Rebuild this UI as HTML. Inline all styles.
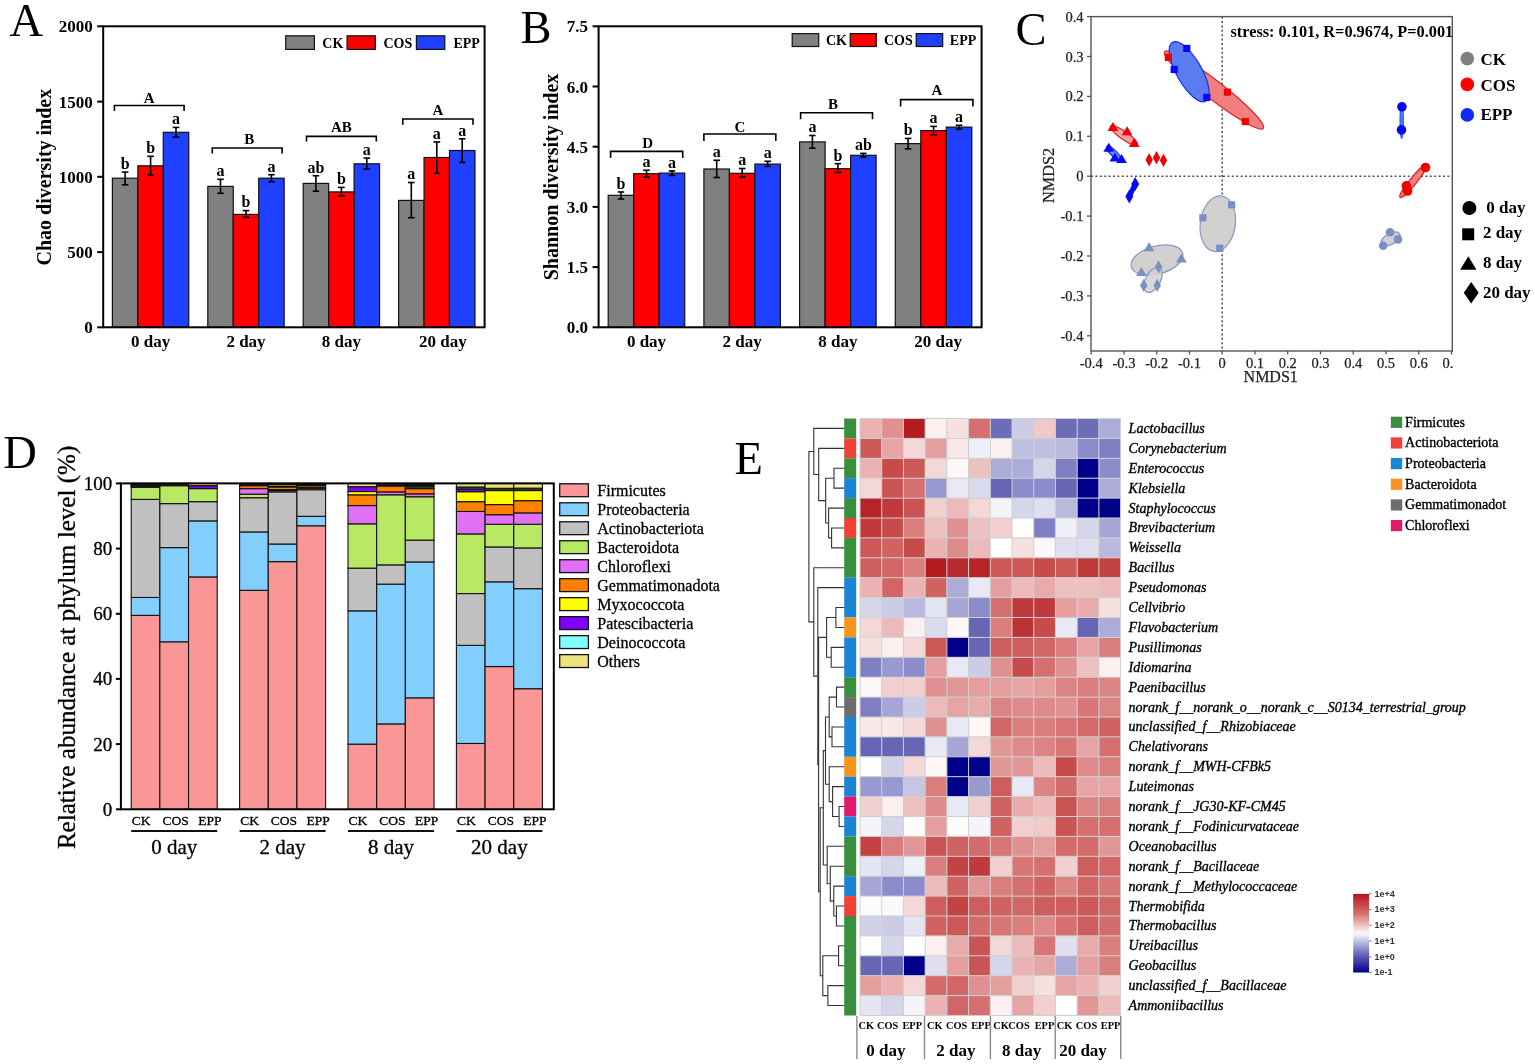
<!DOCTYPE html>
<html><head><meta charset="utf-8"><title>Figure</title><style>
html,body{margin:0;padding:0;background:#fff;width:1535px;height:1064px;overflow:hidden;}
svg{display:block;}
text{font-family:"Liberation Serif", "Times New Roman", serif;}
</style></head><body>
<svg width="1535" height="1064" viewBox="0 0 1535 1064">
<rect x="0" y="0" width="1535" height="1064" fill="#fff"/>
<rect x="112.40" y="178.20" width="25.45" height="149.10" fill="#808080" stroke="#111" stroke-width="1.2"/>
<rect x="137.85" y="165.80" width="25.45" height="161.50" fill="#ff0000" stroke="#111" stroke-width="1.2"/>
<rect x="163.30" y="132.30" width="25.45" height="195.00" fill="#2040ff" stroke="#111" stroke-width="1.2"/>
<rect x="207.80" y="186.40" width="25.45" height="140.90" fill="#808080" stroke="#111" stroke-width="1.2"/>
<rect x="233.25" y="214.40" width="25.45" height="112.90" fill="#ff0000" stroke="#111" stroke-width="1.2"/>
<rect x="258.70" y="178.20" width="25.45" height="149.10" fill="#2040ff" stroke="#111" stroke-width="1.2"/>
<rect x="303.20" y="183.40" width="25.45" height="143.90" fill="#808080" stroke="#111" stroke-width="1.2"/>
<rect x="328.65" y="191.90" width="25.45" height="135.40" fill="#ff0000" stroke="#111" stroke-width="1.2"/>
<rect x="354.10" y="163.80" width="25.45" height="163.50" fill="#2040ff" stroke="#111" stroke-width="1.2"/>
<rect x="398.60" y="200.40" width="25.45" height="126.90" fill="#808080" stroke="#111" stroke-width="1.2"/>
<rect x="424.05" y="157.50" width="25.45" height="169.80" fill="#ff0000" stroke="#111" stroke-width="1.2"/>
<rect x="449.50" y="150.50" width="25.45" height="176.80" fill="#2040ff" stroke="#111" stroke-width="1.2"/>
<line x1="125.1" y1="172.1" x2="125.1" y2="184.8" stroke="#000" stroke-width="1.6"/>
<line x1="121.8" y1="172.1" x2="128.4" y2="172.1" stroke="#000" stroke-width="1.6"/>
<line x1="121.8" y1="184.8" x2="128.4" y2="184.8" stroke="#000" stroke-width="1.6"/>
<text x="125.1" y="168.9" font-size="16" font-weight="bold" text-anchor="middle">b</text>
<line x1="150.6" y1="156.3" x2="150.6" y2="175.1" stroke="#000" stroke-width="1.6"/>
<line x1="147.3" y1="156.3" x2="153.9" y2="156.3" stroke="#000" stroke-width="1.6"/>
<line x1="147.3" y1="175.1" x2="153.9" y2="175.1" stroke="#000" stroke-width="1.6"/>
<text x="150.6" y="153.1" font-size="16" font-weight="bold" text-anchor="middle">b</text>
<line x1="176.0" y1="127.4" x2="176.0" y2="137.0" stroke="#000" stroke-width="1.6"/>
<line x1="172.7" y1="127.4" x2="179.3" y2="127.4" stroke="#000" stroke-width="1.6"/>
<line x1="172.7" y1="137.0" x2="179.3" y2="137.0" stroke="#000" stroke-width="1.6"/>
<text x="176.0" y="124.2" font-size="16" font-weight="bold" text-anchor="middle">a</text>
<line x1="220.5" y1="179.3" x2="220.5" y2="193.3" stroke="#000" stroke-width="1.6"/>
<line x1="217.2" y1="179.3" x2="223.8" y2="179.3" stroke="#000" stroke-width="1.6"/>
<line x1="217.2" y1="193.3" x2="223.8" y2="193.3" stroke="#000" stroke-width="1.6"/>
<text x="220.5" y="176.1" font-size="16" font-weight="bold" text-anchor="middle">a</text>
<line x1="246.0" y1="210.6" x2="246.0" y2="217.4" stroke="#000" stroke-width="1.6"/>
<line x1="242.7" y1="210.6" x2="249.3" y2="210.6" stroke="#000" stroke-width="1.6"/>
<line x1="242.7" y1="217.4" x2="249.3" y2="217.4" stroke="#000" stroke-width="1.6"/>
<text x="246.0" y="207.4" font-size="16" font-weight="bold" text-anchor="middle">b</text>
<line x1="271.4" y1="174.7" x2="271.4" y2="181.7" stroke="#000" stroke-width="1.6"/>
<line x1="268.1" y1="174.7" x2="274.7" y2="174.7" stroke="#000" stroke-width="1.6"/>
<line x1="268.1" y1="181.7" x2="274.7" y2="181.7" stroke="#000" stroke-width="1.6"/>
<text x="271.4" y="171.5" font-size="16" font-weight="bold" text-anchor="middle">a</text>
<line x1="315.9" y1="175.7" x2="315.9" y2="191.2" stroke="#000" stroke-width="1.6"/>
<line x1="312.6" y1="175.7" x2="319.2" y2="175.7" stroke="#000" stroke-width="1.6"/>
<line x1="312.6" y1="191.2" x2="319.2" y2="191.2" stroke="#000" stroke-width="1.6"/>
<text x="315.9" y="172.5" font-size="16" font-weight="bold" text-anchor="middle">ab</text>
<line x1="341.4" y1="187.4" x2="341.4" y2="195.8" stroke="#000" stroke-width="1.6"/>
<line x1="338.1" y1="187.4" x2="344.7" y2="187.4" stroke="#000" stroke-width="1.6"/>
<line x1="338.1" y1="195.8" x2="344.7" y2="195.8" stroke="#000" stroke-width="1.6"/>
<text x="341.4" y="184.2" font-size="16" font-weight="bold" text-anchor="middle">b</text>
<line x1="366.8" y1="158.1" x2="366.8" y2="169.1" stroke="#000" stroke-width="1.6"/>
<line x1="363.5" y1="158.1" x2="370.1" y2="158.1" stroke="#000" stroke-width="1.6"/>
<line x1="363.5" y1="169.1" x2="370.1" y2="169.1" stroke="#000" stroke-width="1.6"/>
<text x="366.8" y="154.9" font-size="16" font-weight="bold" text-anchor="middle">a</text>
<line x1="411.3" y1="182.5" x2="411.3" y2="217.7" stroke="#000" stroke-width="1.6"/>
<line x1="408.0" y1="182.5" x2="414.6" y2="182.5" stroke="#000" stroke-width="1.6"/>
<line x1="408.0" y1="217.7" x2="414.6" y2="217.7" stroke="#000" stroke-width="1.6"/>
<text x="411.3" y="179.3" font-size="16" font-weight="bold" text-anchor="middle">a</text>
<line x1="436.8" y1="142.0" x2="436.8" y2="173.3" stroke="#000" stroke-width="1.6"/>
<line x1="433.5" y1="142.0" x2="440.1" y2="142.0" stroke="#000" stroke-width="1.6"/>
<line x1="433.5" y1="173.3" x2="440.1" y2="173.3" stroke="#000" stroke-width="1.6"/>
<text x="436.8" y="138.8" font-size="16" font-weight="bold" text-anchor="middle">a</text>
<line x1="462.2" y1="138.8" x2="462.2" y2="162.4" stroke="#000" stroke-width="1.6"/>
<line x1="458.9" y1="138.8" x2="465.5" y2="138.8" stroke="#000" stroke-width="1.6"/>
<line x1="458.9" y1="162.4" x2="465.5" y2="162.4" stroke="#000" stroke-width="1.6"/>
<text x="462.2" y="135.6" font-size="16" font-weight="bold" text-anchor="middle">a</text>
<path d="M114.4,110.9 V105.5 H184.1 V110.9" fill="none" stroke="#000" stroke-width="1.6"/>
<text x="149.2" y="102.5" font-size="15" font-weight="bold" text-anchor="middle">A</text>
<path d="M212.3,153.4 V148.0 H282.1 V153.4" fill="none" stroke="#000" stroke-width="1.6"/>
<text x="249.2" y="143.5" font-size="15" font-weight="bold" text-anchor="middle">B</text>
<path d="M306.5,141.6 V136.4 H376.3 V141.6" fill="none" stroke="#000" stroke-width="1.6"/>
<text x="341.4" y="132.4" font-size="15" font-weight="bold" text-anchor="middle">AB</text>
<path d="M402.8,124.7 V119.0 H473.0 V124.7" fill="none" stroke="#000" stroke-width="1.6"/>
<text x="437.9" y="114.8" font-size="15" font-weight="bold" text-anchor="middle">A</text>
<rect x="103.2" y="26.3" width="381.40000000000003" height="301.0" fill="none" stroke="#000" stroke-width="2"/>
<line x1="97.2" y1="327.3" x2="103.2" y2="327.3" stroke="#000" stroke-width="2"/>
<text x="92.7" y="333.3" font-size="17" font-weight="bold" text-anchor="end">0</text>
<line x1="97.2" y1="252.1" x2="103.2" y2="252.1" stroke="#000" stroke-width="2"/>
<text x="92.7" y="258.1" font-size="17" font-weight="bold" text-anchor="end">500</text>
<line x1="97.2" y1="176.8" x2="103.2" y2="176.8" stroke="#000" stroke-width="2"/>
<text x="92.7" y="182.8" font-size="17" font-weight="bold" text-anchor="end">1000</text>
<line x1="97.2" y1="101.6" x2="103.2" y2="101.6" stroke="#000" stroke-width="2"/>
<text x="92.7" y="107.6" font-size="17" font-weight="bold" text-anchor="end">1500</text>
<line x1="97.2" y1="26.3" x2="103.2" y2="26.3" stroke="#000" stroke-width="2"/>
<text x="92.7" y="32.3" font-size="17" font-weight="bold" text-anchor="end">2000</text>
<text x="150.6" y="347.3" font-size="17" font-weight="bold" text-anchor="middle">0 day</text>
<text x="246.0" y="347.3" font-size="17" font-weight="bold" text-anchor="middle">2 day</text>
<text x="341.4" y="347.3" font-size="17" font-weight="bold" text-anchor="middle">8 day</text>
<text x="442.8" y="347.3" font-size="17" font-weight="bold" text-anchor="middle">20 day</text>
<rect x="285.70" y="35.80" width="28.70" height="13.60" fill="#808080" stroke="#111" stroke-width="1.2"/>
<text x="322.3" y="47.5" font-size="14" font-weight="bold">CK</text>
<rect x="347.10" y="35.80" width="28.20" height="13.60" fill="#ff0000" stroke="#111" stroke-width="1.2"/>
<text x="383.5" y="47.5" font-size="14" font-weight="bold">COS</text>
<rect x="416.40" y="35.80" width="28.40" height="13.60" fill="#2040ff" stroke="#111" stroke-width="1.2"/>
<text x="453.4" y="47.5" font-size="14" font-weight="bold">EPP</text>
<text transform="translate(51.0,177.1) rotate(-90)" x="0" y="0" font-size="20" font-weight="bold" text-anchor="middle">Chao diversity index</text>
<text x="9.5" y="35.9" font-size="46.5">A</text>
<rect x="608.20" y="195.30" width="25.50" height="132.00" fill="#808080" stroke="#111" stroke-width="1.2"/>
<rect x="633.70" y="173.70" width="25.50" height="153.60" fill="#ff0000" stroke="#111" stroke-width="1.2"/>
<rect x="659.20" y="173.10" width="25.50" height="154.20" fill="#2040ff" stroke="#111" stroke-width="1.2"/>
<rect x="703.90" y="169.00" width="25.50" height="158.30" fill="#808080" stroke="#111" stroke-width="1.2"/>
<rect x="729.40" y="173.30" width="25.50" height="154.00" fill="#ff0000" stroke="#111" stroke-width="1.2"/>
<rect x="754.90" y="164.10" width="25.50" height="163.20" fill="#2040ff" stroke="#111" stroke-width="1.2"/>
<rect x="799.60" y="141.90" width="25.50" height="185.40" fill="#808080" stroke="#111" stroke-width="1.2"/>
<rect x="825.10" y="168.70" width="25.50" height="158.60" fill="#ff0000" stroke="#111" stroke-width="1.2"/>
<rect x="850.60" y="155.30" width="25.50" height="172.00" fill="#2040ff" stroke="#111" stroke-width="1.2"/>
<rect x="895.30" y="143.60" width="25.50" height="183.70" fill="#808080" stroke="#111" stroke-width="1.2"/>
<rect x="920.80" y="130.60" width="25.50" height="196.70" fill="#ff0000" stroke="#111" stroke-width="1.2"/>
<rect x="946.30" y="127.10" width="25.50" height="200.20" fill="#2040ff" stroke="#111" stroke-width="1.2"/>
<line x1="621.0" y1="192.0" x2="621.0" y2="199.0" stroke="#000" stroke-width="1.6"/>
<line x1="617.7" y1="192.0" x2="624.2" y2="192.0" stroke="#000" stroke-width="1.6"/>
<line x1="617.7" y1="199.0" x2="624.2" y2="199.0" stroke="#000" stroke-width="1.6"/>
<text x="621.0" y="188.8" font-size="16" font-weight="bold" text-anchor="middle">b</text>
<line x1="646.5" y1="170.2" x2="646.5" y2="177.2" stroke="#000" stroke-width="1.6"/>
<line x1="643.2" y1="170.2" x2="649.8" y2="170.2" stroke="#000" stroke-width="1.6"/>
<line x1="643.2" y1="177.2" x2="649.8" y2="177.2" stroke="#000" stroke-width="1.6"/>
<text x="646.5" y="167.0" font-size="16" font-weight="bold" text-anchor="middle">a</text>
<line x1="672.0" y1="170.9" x2="672.0" y2="175.4" stroke="#000" stroke-width="1.6"/>
<line x1="668.7" y1="170.9" x2="675.2" y2="170.9" stroke="#000" stroke-width="1.6"/>
<line x1="668.7" y1="175.4" x2="675.2" y2="175.4" stroke="#000" stroke-width="1.6"/>
<text x="672.0" y="167.7" font-size="16" font-weight="bold" text-anchor="middle">a</text>
<line x1="716.7" y1="160.3" x2="716.7" y2="177.5" stroke="#000" stroke-width="1.6"/>
<line x1="713.4" y1="160.3" x2="720.0" y2="160.3" stroke="#000" stroke-width="1.6"/>
<line x1="713.4" y1="177.5" x2="720.0" y2="177.5" stroke="#000" stroke-width="1.6"/>
<text x="716.7" y="157.1" font-size="16" font-weight="bold" text-anchor="middle">a</text>
<line x1="742.2" y1="168.5" x2="742.2" y2="176.9" stroke="#000" stroke-width="1.6"/>
<line x1="738.9" y1="168.5" x2="745.5" y2="168.5" stroke="#000" stroke-width="1.6"/>
<line x1="738.9" y1="176.9" x2="745.5" y2="176.9" stroke="#000" stroke-width="1.6"/>
<text x="742.2" y="165.3" font-size="16" font-weight="bold" text-anchor="middle">a</text>
<line x1="767.7" y1="161.3" x2="767.7" y2="166.4" stroke="#000" stroke-width="1.6"/>
<line x1="764.4" y1="161.3" x2="771.0" y2="161.3" stroke="#000" stroke-width="1.6"/>
<line x1="764.4" y1="166.4" x2="771.0" y2="166.4" stroke="#000" stroke-width="1.6"/>
<text x="767.7" y="158.1" font-size="16" font-weight="bold" text-anchor="middle">a</text>
<line x1="812.4" y1="135.5" x2="812.4" y2="148.2" stroke="#000" stroke-width="1.6"/>
<line x1="809.1" y1="135.5" x2="815.6" y2="135.5" stroke="#000" stroke-width="1.6"/>
<line x1="809.1" y1="148.2" x2="815.6" y2="148.2" stroke="#000" stroke-width="1.6"/>
<text x="812.4" y="132.3" font-size="16" font-weight="bold" text-anchor="middle">a</text>
<line x1="837.9" y1="163.7" x2="837.9" y2="172.6" stroke="#000" stroke-width="1.6"/>
<line x1="834.6" y1="163.7" x2="841.1" y2="163.7" stroke="#000" stroke-width="1.6"/>
<line x1="834.6" y1="172.6" x2="841.1" y2="172.6" stroke="#000" stroke-width="1.6"/>
<text x="837.9" y="160.5" font-size="16" font-weight="bold" text-anchor="middle">b</text>
<line x1="863.4" y1="153.4" x2="863.4" y2="157.1" stroke="#000" stroke-width="1.6"/>
<line x1="860.1" y1="153.4" x2="866.6" y2="153.4" stroke="#000" stroke-width="1.6"/>
<line x1="860.1" y1="157.1" x2="866.6" y2="157.1" stroke="#000" stroke-width="1.6"/>
<text x="863.4" y="150.2" font-size="16" font-weight="bold" text-anchor="middle">ab</text>
<line x1="908.1" y1="138.4" x2="908.1" y2="148.9" stroke="#000" stroke-width="1.6"/>
<line x1="904.8" y1="138.4" x2="911.4" y2="138.4" stroke="#000" stroke-width="1.6"/>
<line x1="904.8" y1="148.9" x2="911.4" y2="148.9" stroke="#000" stroke-width="1.6"/>
<text x="908.1" y="135.2" font-size="16" font-weight="bold" text-anchor="middle">b</text>
<line x1="933.6" y1="126.4" x2="933.6" y2="134.8" stroke="#000" stroke-width="1.6"/>
<line x1="930.3" y1="126.4" x2="936.9" y2="126.4" stroke="#000" stroke-width="1.6"/>
<line x1="930.3" y1="134.8" x2="936.9" y2="134.8" stroke="#000" stroke-width="1.6"/>
<text x="933.6" y="123.2" font-size="16" font-weight="bold" text-anchor="middle">a</text>
<line x1="959.1" y1="125.3" x2="959.1" y2="129.2" stroke="#000" stroke-width="1.6"/>
<line x1="955.8" y1="125.3" x2="962.4" y2="125.3" stroke="#000" stroke-width="1.6"/>
<line x1="955.8" y1="129.2" x2="962.4" y2="129.2" stroke="#000" stroke-width="1.6"/>
<text x="959.1" y="122.1" font-size="16" font-weight="bold" text-anchor="middle">a</text>
<path d="M610.6,157.9 V151.4 H682.7 V157.9" fill="none" stroke="#000" stroke-width="1.6"/>
<text x="647.7" y="147.6" font-size="15" font-weight="bold" text-anchor="middle">D</text>
<path d="M703.9,141.0 V134.0 H775.8 V141.0" fill="none" stroke="#000" stroke-width="1.6"/>
<text x="739.8" y="131.8" font-size="15" font-weight="bold" text-anchor="middle">C</text>
<path d="M800.6,119.3 V112.7 H872.5 V119.3" fill="none" stroke="#000" stroke-width="1.6"/>
<text x="833.0" y="108.8" font-size="15" font-weight="bold" text-anchor="middle">B</text>
<path d="M900.6,106.4 V99.6 H972.9 V106.4" fill="none" stroke="#000" stroke-width="1.6"/>
<text x="936.8" y="94.5" font-size="15" font-weight="bold" text-anchor="middle">A</text>
<rect x="598.6" y="26.3" width="383.0" height="301.0" fill="none" stroke="#000" stroke-width="2"/>
<line x1="592.6" y1="327.3" x2="598.6" y2="327.3" stroke="#000" stroke-width="2"/>
<text x="588.1" y="333.3" font-size="17" font-weight="bold" text-anchor="end">0.0</text>
<line x1="592.6" y1="267.1" x2="598.6" y2="267.1" stroke="#000" stroke-width="2"/>
<text x="588.1" y="273.1" font-size="17" font-weight="bold" text-anchor="end">1.5</text>
<line x1="592.6" y1="206.9" x2="598.6" y2="206.9" stroke="#000" stroke-width="2"/>
<text x="588.1" y="212.9" font-size="17" font-weight="bold" text-anchor="end">3.0</text>
<line x1="592.6" y1="146.7" x2="598.6" y2="146.7" stroke="#000" stroke-width="2"/>
<text x="588.1" y="152.7" font-size="17" font-weight="bold" text-anchor="end">4.5</text>
<line x1="592.6" y1="86.5" x2="598.6" y2="86.5" stroke="#000" stroke-width="2"/>
<text x="588.1" y="92.5" font-size="17" font-weight="bold" text-anchor="end">6.0</text>
<line x1="592.6" y1="26.3" x2="598.6" y2="26.3" stroke="#000" stroke-width="2"/>
<text x="588.1" y="32.3" font-size="17" font-weight="bold" text-anchor="end">7.5</text>
<text x="646.5" y="347.3" font-size="17" font-weight="bold" text-anchor="middle">0 day</text>
<text x="742.2" y="347.3" font-size="17" font-weight="bold" text-anchor="middle">2 day</text>
<text x="837.9" y="347.3" font-size="17" font-weight="bold" text-anchor="middle">8 day</text>
<text x="938.1" y="347.3" font-size="17" font-weight="bold" text-anchor="middle">20 day</text>
<rect x="792.20" y="33.60" width="26.50" height="12.90" fill="#808080" stroke="#111" stroke-width="1.2"/>
<text x="825.9" y="45.1" font-size="14" font-weight="bold">CK</text>
<rect x="850.20" y="33.60" width="26.10" height="12.90" fill="#ff0000" stroke="#111" stroke-width="1.2"/>
<text x="883.9" y="45.1" font-size="14" font-weight="bold">COS</text>
<rect x="916.20" y="33.60" width="26.50" height="12.90" fill="#2040ff" stroke="#111" stroke-width="1.2"/>
<text x="949.8" y="45.1" font-size="14" font-weight="bold">EPP</text>
<text transform="translate(557.5,177.0) rotate(-90)" x="0" y="0" font-size="20" font-weight="bold" text-anchor="middle">Shannon diversity index</text>
<text x="520.5" y="42.6" font-size="46.5">B</text>
<line x1="1222.2" y1="16.6" x2="1222.2" y2="351.0" stroke="#555" stroke-width="1.6" stroke-dasharray="2 2.4"/>
<line x1="1091.0" y1="176.2" x2="1452.3" y2="176.2" stroke="#555" stroke-width="1.6" stroke-dasharray="2 2.4"/>
<ellipse cx="1217.8" cy="223.7" rx="17.5" ry="28.0" transform="rotate(8.0 1217.8 223.7)" fill="#d3d0d0" fill-opacity="1.0" stroke="#8797c0" stroke-width="1.2"/>
<ellipse cx="1157.0" cy="260.0" rx="26.5" ry="14.0" transform="rotate(-15.0 1157.0 260.0)" fill="#d3d0d0" fill-opacity="1.0" stroke="#8797c0" stroke-width="1.2"/>
<ellipse cx="1153.0" cy="280.0" rx="7.5" ry="13.5" transform="rotate(28.0 1153.0 280.0)" fill="#d3d0d0" fill-opacity="0.85" stroke="#8797c0" stroke-width="1.2"/>
<ellipse cx="1390.5" cy="239.0" rx="10.5" ry="5.5" transform="rotate(-30.0 1390.5 239.0)" fill="#d3d0d0" fill-opacity="1.0" stroke="#8797c0" stroke-width="1.2"/>
<ellipse cx="1214.0" cy="90.0" rx="62.5" ry="9.2" transform="rotate(37.9 1214.0 90.0)" fill="#f08080" fill-opacity="1" stroke="#e02020" stroke-width="1.2"/>
<ellipse cx="1124.0" cy="135.5" rx="16.5" ry="4.0" transform="rotate(35.0 1124.0 135.5)" fill="#f4a0a0" fill-opacity="1" stroke="#e02020" stroke-width="1.2"/>
<ellipse cx="1413.0" cy="181.5" rx="20.5" ry="3.5" transform="rotate(-51.0 1413.0 181.5)" fill="#f08080" fill-opacity="1" stroke="#e02020" stroke-width="1.2"/>
<ellipse cx="1189.2" cy="71.8" rx="33.8" ry="12.6" transform="rotate(60.5 1189.2 71.8)" fill="#5b7cf0" fill-opacity="1" stroke="#1030f0" stroke-width="1.2"/>
<ellipse cx="1114.0" cy="153.5" rx="10.0" ry="3.0" transform="rotate(45.0 1114.0 153.5)" fill="#7090f0" fill-opacity="1" stroke="#1030f0" stroke-width="1.2"/>
<line x1="1135.2" y1="184.0" x2="1129.3" y2="196.5" stroke="#0808f5" stroke-width="5"/>
<ellipse cx="1401.7" cy="121.5" rx="17.0" ry="1.6" transform="rotate(90.0 1401.7 121.5)" fill="#5b7cf0" fill-opacity="1" stroke="#3050f0" stroke-width="1.2"/>
<rect x="1228.00" y="201.20" width="7.20" height="7.20" fill="#7b8fc2"/>
<rect x="1199.30" y="214.20" width="7.20" height="7.20" fill="#7b8fc2"/>
<rect x="1216.20" y="244.60" width="7.20" height="7.20" fill="#7b8fc2"/>
<path d="M1149.1,242.2 L1154.5,251.2 L1143.7,251.2 Z" fill="#7b8fc2"/>
<path d="M1181.4,253.5 L1186.8,262.5 L1176.0,262.5 Z" fill="#7b8fc2"/>
<path d="M1141.4,267.0 L1146.8,276.0 L1136.0,276.0 Z" fill="#7b8fc2"/>
<path d="M1158.6,260.2 L1162.3,266.8 L1158.6,273.4 L1154.9,266.8 Z" fill="#7b8fc2"/>
<path d="M1143.7,278.8 L1147.4,285.4 L1143.7,292.0 L1140.0,285.4 Z" fill="#7b8fc2"/>
<path d="M1157.2,278.8 L1160.9,285.4 L1157.2,292.0 L1153.5,285.4 Z" fill="#7b8fc2"/>
<circle cx="1390.0" cy="232.2" r="4.3" fill="#7b8fc2"/>
<circle cx="1398.0" cy="239.4" r="4.3" fill="#7b8fc2"/>
<circle cx="1383.2" cy="245.8" r="4.3" fill="#7b8fc2"/>
<rect x="1164.80" y="53.80" width="7.20" height="7.20" fill="#f00000"/>
<rect x="1223.80" y="88.50" width="7.20" height="7.20" fill="#f00000"/>
<rect x="1241.70" y="118.00" width="7.20" height="7.20" fill="#f00000"/>
<path d="M1113.0,122.0 L1118.4,131.0 L1107.6,131.0 Z" fill="#f00000"/>
<path d="M1127.1,126.2 L1132.5,135.2 L1121.7,135.2 Z" fill="#f00000"/>
<path d="M1134.2,138.0 L1139.6,147.0 L1128.8,147.0 Z" fill="#f00000"/>
<path d="M1149.2,153.2 L1152.9,159.8 L1149.2,166.4 L1145.5,159.8 Z" fill="#f00000"/>
<path d="M1156.5,151.1 L1160.2,157.7 L1156.5,164.3 L1152.8,157.7 Z" fill="#f00000"/>
<path d="M1163.5,153.7 L1167.2,160.3 L1163.5,166.9 L1159.8,160.3 Z" fill="#f00000"/>
<circle cx="1425.5" cy="167.5" r="4.8" fill="#f00000"/>
<circle cx="1406.3" cy="185.8" r="4.8" fill="#f00000"/>
<circle cx="1407.6" cy="191.0" r="4.8" fill="#f00000"/>
<rect x="1183.20" y="44.80" width="7.20" height="7.20" fill="#0808f5"/>
<rect x="1170.60" y="65.90" width="7.20" height="7.20" fill="#0808f5"/>
<rect x="1203.20" y="93.80" width="7.20" height="7.20" fill="#0808f5"/>
<path d="M1108.8,142.7 L1114.2,151.7 L1103.4,151.7 Z" fill="#0808f5"/>
<path d="M1114.9,152.6 L1120.3,161.6 L1109.5,161.6 Z" fill="#0808f5"/>
<path d="M1121.5,153.9 L1126.9,162.9 L1116.1,162.9 Z" fill="#0808f5"/>
<path d="M1135.2,176.9 L1139.2,184.0 L1135.2,191.1 L1131.2,184.0 Z" fill="#0808f5"/>
<path d="M1129.3,189.4 L1133.3,196.5 L1129.3,203.6 L1125.3,196.5 Z" fill="#0808f5"/>
<circle cx="1401.9" cy="106.8" r="4.8" fill="#0808f5"/>
<circle cx="1401.5" cy="129.9" r="4.8" fill="#0808f5"/>
<rect x="1091.0" y="16.6" width="361.3" height="334.4" fill="none" stroke="#555" stroke-width="1.4"/>
<line x1="1087.0" y1="16.6" x2="1091.0" y2="16.6" stroke="#555" stroke-width="1.3"/>
<text x="1083.5" y="21.6" font-size="14.5" text-anchor="end" fill="#222" stroke="#222" stroke-width="0.25">0.4</text>
<line x1="1087.0" y1="56.5" x2="1091.0" y2="56.5" stroke="#555" stroke-width="1.3"/>
<text x="1083.5" y="61.5" font-size="14.5" text-anchor="end" fill="#222" stroke="#222" stroke-width="0.25">0.3</text>
<line x1="1087.0" y1="96.4" x2="1091.0" y2="96.4" stroke="#555" stroke-width="1.3"/>
<text x="1083.5" y="101.4" font-size="14.5" text-anchor="end" fill="#222" stroke="#222" stroke-width="0.25">0.2</text>
<line x1="1087.0" y1="136.3" x2="1091.0" y2="136.3" stroke="#555" stroke-width="1.3"/>
<text x="1083.5" y="141.3" font-size="14.5" text-anchor="end" fill="#222" stroke="#222" stroke-width="0.25">0.1</text>
<line x1="1087.0" y1="176.2" x2="1091.0" y2="176.2" stroke="#555" stroke-width="1.3"/>
<text x="1083.5" y="181.2" font-size="14.5" text-anchor="end" fill="#222" stroke="#222" stroke-width="0.25">0</text>
<line x1="1087.0" y1="216.1" x2="1091.0" y2="216.1" stroke="#555" stroke-width="1.3"/>
<text x="1083.5" y="221.1" font-size="14.5" text-anchor="end" fill="#222" stroke="#222" stroke-width="0.25">-0.1</text>
<line x1="1087.0" y1="256.0" x2="1091.0" y2="256.0" stroke="#555" stroke-width="1.3"/>
<text x="1083.5" y="261.0" font-size="14.5" text-anchor="end" fill="#222" stroke="#222" stroke-width="0.25">-0.2</text>
<line x1="1087.0" y1="295.9" x2="1091.0" y2="295.9" stroke="#555" stroke-width="1.3"/>
<text x="1083.5" y="300.9" font-size="14.5" text-anchor="end" fill="#222" stroke="#222" stroke-width="0.25">-0.3</text>
<line x1="1087.0" y1="335.8" x2="1091.0" y2="335.8" stroke="#555" stroke-width="1.3"/>
<text x="1083.5" y="340.8" font-size="14.5" text-anchor="end" fill="#222" stroke="#222" stroke-width="0.25">-0.4</text>
<line x1="1091.2" y1="351.0" x2="1091.2" y2="354.5" stroke="#555" stroke-width="1.3"/>
<line x1="1124.0" y1="351.0" x2="1124.0" y2="354.5" stroke="#555" stroke-width="1.3"/>
<line x1="1156.7" y1="351.0" x2="1156.7" y2="354.5" stroke="#555" stroke-width="1.3"/>
<line x1="1189.5" y1="351.0" x2="1189.5" y2="354.5" stroke="#555" stroke-width="1.3"/>
<line x1="1222.2" y1="351.0" x2="1222.2" y2="354.5" stroke="#555" stroke-width="1.3"/>
<line x1="1255.0" y1="351.0" x2="1255.0" y2="354.5" stroke="#555" stroke-width="1.3"/>
<line x1="1287.7" y1="351.0" x2="1287.7" y2="354.5" stroke="#555" stroke-width="1.3"/>
<line x1="1320.5" y1="351.0" x2="1320.5" y2="354.5" stroke="#555" stroke-width="1.3"/>
<line x1="1353.2" y1="351.0" x2="1353.2" y2="354.5" stroke="#555" stroke-width="1.3"/>
<line x1="1386.0" y1="351.0" x2="1386.0" y2="354.5" stroke="#555" stroke-width="1.3"/>
<line x1="1418.7" y1="351.0" x2="1418.7" y2="354.5" stroke="#555" stroke-width="1.3"/>
<line x1="1451.5" y1="351.0" x2="1451.5" y2="354.5" stroke="#555" stroke-width="1.3"/>
<clipPath id="cclip"><rect x="1000" y="350" width="453.5" height="30"/></clipPath>
<g clip-path="url(#cclip)">
<text x="1091.2" y="368.3" font-size="14.5" text-anchor="middle" fill="#222" stroke="#222" stroke-width="0.25">-0.4</text>
<text x="1124.0" y="368.3" font-size="14.5" text-anchor="middle" fill="#222" stroke="#222" stroke-width="0.25">-0.3</text>
<text x="1156.7" y="368.3" font-size="14.5" text-anchor="middle" fill="#222" stroke="#222" stroke-width="0.25">-0.2</text>
<text x="1189.5" y="368.3" font-size="14.5" text-anchor="middle" fill="#222" stroke="#222" stroke-width="0.25">-0.1</text>
<text x="1222.2" y="368.3" font-size="14.5" text-anchor="middle" fill="#222" stroke="#222" stroke-width="0.25">0</text>
<text x="1255.0" y="368.3" font-size="14.5" text-anchor="middle" fill="#222" stroke="#222" stroke-width="0.25">0.1</text>
<text x="1287.7" y="368.3" font-size="14.5" text-anchor="middle" fill="#222" stroke="#222" stroke-width="0.25">0.2</text>
<text x="1320.5" y="368.3" font-size="14.5" text-anchor="middle" fill="#222" stroke="#222" stroke-width="0.25">0.3</text>
<text x="1353.2" y="368.3" font-size="14.5" text-anchor="middle" fill="#222" stroke="#222" stroke-width="0.25">0.4</text>
<text x="1386.0" y="368.3" font-size="14.5" text-anchor="middle" fill="#222" stroke="#222" stroke-width="0.25">0.5</text>
<text x="1418.7" y="368.3" font-size="14.5" text-anchor="middle" fill="#222" stroke="#222" stroke-width="0.25">0.6</text>
<text x="1451.5" y="368.3" font-size="14.5" text-anchor="middle" fill="#222" stroke="#222" stroke-width="0.25">0.7</text>
</g>
<text x="1270.7" y="382.3" font-size="16" text-anchor="middle" fill="#222" stroke="#222" stroke-width="0.25">NMDS1</text>
<text transform="translate(1053.7,175.5) rotate(-90)" font-size="16.3" text-anchor="middle" fill="#222" stroke="#222" stroke-width="0.25">NMDS2</text>
<text x="1230.5" y="36.8" font-size="16.3" font-weight="bold">stress: 0.101, R=0.9674, P=0.001</text>
<circle cx="1467.3" cy="58.6" r="6.8" fill="#808080"/>
<text x="1480.4" y="65.2" font-size="17" font-weight="bold">CK</text>
<circle cx="1467.3" cy="84.4" r="6.8" fill="#ff0000"/>
<text x="1480.4" y="90.6" font-size="17" font-weight="bold">COS</text>
<circle cx="1467.3" cy="114.9" r="6.8" fill="#1428f5"/>
<text x="1480.4" y="120.2" font-size="17" font-weight="bold">EPP</text>
<circle cx="1469.4" cy="208" r="7" fill="#000"/>
<text x="1486.3" y="213.1" font-size="17" font-weight="bold">0 day</text>
<rect x="1462.20" y="228.30" width="12.00" height="12.00" fill="#000"/>
<text x="1482.9" y="237.9" font-size="17" font-weight="bold">2 day</text>
<path d="M1468.3,256.3 L1476.5,269.8 L1460.1,269.8 Z" fill="#000"/>
<text x="1482.9" y="267.8" font-size="17" font-weight="bold">8 day</text>
<path d="M1471.2,281.9 L1478.7,292.7 L1471.2,303.6 L1463.8,292.7 Z" fill="#000"/>
<text x="1482.9" y="297.7" font-size="17" font-weight="bold">20 day</text>
<text x="1015.5" y="45.3" font-size="46.5">C</text>
<rect x="131.20" y="615.39" width="28.67" height="193.91" fill="#fa9696" stroke="#111" stroke-width="1.1"/>
<rect x="131.20" y="597.46" width="28.67" height="17.92" fill="#82cffd" stroke="#111" stroke-width="1.1"/>
<rect x="131.20" y="499.37" width="28.67" height="98.10" fill="#c0c0c0" stroke="#111" stroke-width="1.1"/>
<rect x="131.20" y="487.31" width="28.67" height="12.06" fill="#b8e864" stroke="#111" stroke-width="1.1"/>
<rect x="131.20" y="486.33" width="28.67" height="0.98" fill="#e070f5" stroke="#111" stroke-width="1.1"/>
<rect x="131.20" y="485.36" width="28.67" height="0.98" fill="#ff8000" stroke="#111" stroke-width="1.1"/>
<rect x="131.20" y="484.70" width="28.67" height="0.65" fill="#ffff00" stroke="#111" stroke-width="1.1"/>
<rect x="131.20" y="484.05" width="28.67" height="0.65" fill="#8000ff" stroke="#111" stroke-width="1.1"/>
<rect x="131.20" y="483.40" width="28.67" height="0.65" fill="#ede37a" stroke="#111" stroke-width="1.1"/>
<rect x="159.87" y="641.79" width="28.67" height="167.51" fill="#fa9696" stroke="#111" stroke-width="1.1"/>
<rect x="159.87" y="547.60" width="28.67" height="94.19" fill="#82cffd" stroke="#111" stroke-width="1.1"/>
<rect x="159.87" y="503.61" width="28.67" height="44.00" fill="#c0c0c0" stroke="#111" stroke-width="1.1"/>
<rect x="159.87" y="485.68" width="28.67" height="17.92" fill="#b8e864" stroke="#111" stroke-width="1.1"/>
<rect x="159.87" y="484.70" width="28.67" height="0.98" fill="#8000ff" stroke="#111" stroke-width="1.1"/>
<rect x="159.87" y="483.40" width="28.67" height="1.30" fill="#ede37a" stroke="#111" stroke-width="1.1"/>
<rect x="188.54" y="576.93" width="28.67" height="232.37" fill="#fa9696" stroke="#111" stroke-width="1.1"/>
<rect x="188.54" y="520.88" width="28.67" height="56.05" fill="#82cffd" stroke="#111" stroke-width="1.1"/>
<rect x="188.54" y="501.65" width="28.67" height="19.23" fill="#c0c0c0" stroke="#111" stroke-width="1.1"/>
<rect x="188.54" y="488.61" width="28.67" height="13.04" fill="#b8e864" stroke="#111" stroke-width="1.1"/>
<rect x="188.54" y="485.68" width="28.67" height="2.93" fill="#8000ff" stroke="#111" stroke-width="1.1"/>
<rect x="188.54" y="483.40" width="28.67" height="2.28" fill="#ede37a" stroke="#111" stroke-width="1.1"/>
<rect x="239.60" y="590.30" width="28.67" height="219.00" fill="#fa9696" stroke="#111" stroke-width="1.1"/>
<rect x="239.60" y="531.96" width="28.67" height="58.34" fill="#82cffd" stroke="#111" stroke-width="1.1"/>
<rect x="239.60" y="497.74" width="28.67" height="34.22" fill="#c0c0c0" stroke="#111" stroke-width="1.1"/>
<rect x="239.60" y="494.15" width="28.67" height="3.58" fill="#b8e864" stroke="#111" stroke-width="1.1"/>
<rect x="239.60" y="488.61" width="28.67" height="5.54" fill="#e070f5" stroke="#111" stroke-width="1.1"/>
<rect x="239.60" y="485.68" width="28.67" height="2.93" fill="#ff8000" stroke="#111" stroke-width="1.1"/>
<rect x="239.60" y="484.05" width="28.67" height="1.63" fill="#8000ff" stroke="#111" stroke-width="1.1"/>
<rect x="239.60" y="483.40" width="28.67" height="0.65" fill="#ede37a" stroke="#111" stroke-width="1.1"/>
<rect x="268.27" y="561.62" width="28.67" height="247.68" fill="#fa9696" stroke="#111" stroke-width="1.1"/>
<rect x="268.27" y="544.02" width="28.67" height="17.60" fill="#82cffd" stroke="#111" stroke-width="1.1"/>
<rect x="268.27" y="491.87" width="28.67" height="52.14" fill="#c0c0c0" stroke="#111" stroke-width="1.1"/>
<rect x="268.27" y="490.57" width="28.67" height="1.30" fill="#b8e864" stroke="#111" stroke-width="1.1"/>
<rect x="268.27" y="489.59" width="28.67" height="0.98" fill="#e070f5" stroke="#111" stroke-width="1.1"/>
<rect x="268.27" y="486.98" width="28.67" height="2.61" fill="#ff8000" stroke="#111" stroke-width="1.1"/>
<rect x="268.27" y="486.01" width="28.67" height="0.98" fill="#80ffff" stroke="#111" stroke-width="1.1"/>
<rect x="268.27" y="484.21" width="28.67" height="1.79" fill="#ffff00" stroke="#111" stroke-width="1.1"/>
<rect x="268.27" y="483.40" width="28.67" height="0.81" fill="#ede37a" stroke="#111" stroke-width="1.1"/>
<rect x="296.94" y="525.77" width="28.67" height="283.53" fill="#fa9696" stroke="#111" stroke-width="1.1"/>
<rect x="296.94" y="516.32" width="28.67" height="9.45" fill="#82cffd" stroke="#111" stroke-width="1.1"/>
<rect x="296.94" y="489.69" width="28.67" height="26.63" fill="#c0c0c0" stroke="#111" stroke-width="1.1"/>
<rect x="296.94" y="488.29" width="28.67" height="1.40" fill="#b8e864" stroke="#111" stroke-width="1.1"/>
<rect x="296.94" y="487.15" width="28.67" height="1.14" fill="#e070f5" stroke="#111" stroke-width="1.1"/>
<rect x="296.94" y="485.52" width="28.67" height="1.63" fill="#ff8000" stroke="#111" stroke-width="1.1"/>
<rect x="296.94" y="484.38" width="28.67" height="1.14" fill="#8000ff" stroke="#111" stroke-width="1.1"/>
<rect x="296.94" y="483.40" width="28.67" height="0.98" fill="#ede37a" stroke="#111" stroke-width="1.1"/>
<rect x="348.00" y="744.12" width="28.67" height="65.18" fill="#fa9696" stroke="#111" stroke-width="1.1"/>
<rect x="348.00" y="610.83" width="28.67" height="133.29" fill="#82cffd" stroke="#111" stroke-width="1.1"/>
<rect x="348.00" y="568.13" width="28.67" height="42.69" fill="#c0c0c0" stroke="#111" stroke-width="1.1"/>
<rect x="348.00" y="523.81" width="28.67" height="44.32" fill="#b8e864" stroke="#111" stroke-width="1.1"/>
<rect x="348.00" y="505.56" width="28.67" height="18.25" fill="#e070f5" stroke="#111" stroke-width="1.1"/>
<rect x="348.00" y="494.81" width="28.67" height="10.75" fill="#ff8000" stroke="#111" stroke-width="1.1"/>
<rect x="348.00" y="491.55" width="28.67" height="3.26" fill="#ffff00" stroke="#111" stroke-width="1.1"/>
<rect x="348.00" y="486.66" width="28.67" height="4.89" fill="#8000ff" stroke="#111" stroke-width="1.1"/>
<rect x="348.00" y="483.40" width="28.67" height="3.26" fill="#ede37a" stroke="#111" stroke-width="1.1"/>
<rect x="376.67" y="723.91" width="28.67" height="85.39" fill="#fa9696" stroke="#111" stroke-width="1.1"/>
<rect x="376.67" y="584.10" width="28.67" height="139.81" fill="#82cffd" stroke="#111" stroke-width="1.1"/>
<rect x="376.67" y="564.88" width="28.67" height="19.23" fill="#c0c0c0" stroke="#111" stroke-width="1.1"/>
<rect x="376.67" y="494.81" width="28.67" height="70.07" fill="#b8e864" stroke="#111" stroke-width="1.1"/>
<rect x="376.67" y="491.87" width="28.67" height="2.93" fill="#e070f5" stroke="#111" stroke-width="1.1"/>
<rect x="376.67" y="486.01" width="28.67" height="5.87" fill="#ff8000" stroke="#111" stroke-width="1.1"/>
<rect x="376.67" y="484.70" width="28.67" height="1.30" fill="#8000ff" stroke="#111" stroke-width="1.1"/>
<rect x="376.67" y="483.40" width="28.67" height="1.30" fill="#ede37a" stroke="#111" stroke-width="1.1"/>
<rect x="405.34" y="697.84" width="28.67" height="111.46" fill="#fa9696" stroke="#111" stroke-width="1.1"/>
<rect x="405.34" y="561.94" width="28.67" height="135.90" fill="#82cffd" stroke="#111" stroke-width="1.1"/>
<rect x="405.34" y="540.11" width="28.67" height="21.84" fill="#c0c0c0" stroke="#111" stroke-width="1.1"/>
<rect x="405.34" y="496.76" width="28.67" height="43.34" fill="#b8e864" stroke="#111" stroke-width="1.1"/>
<rect x="405.34" y="493.83" width="28.67" height="2.93" fill="#e070f5" stroke="#111" stroke-width="1.1"/>
<rect x="405.34" y="488.61" width="28.67" height="5.21" fill="#ff8000" stroke="#111" stroke-width="1.1"/>
<rect x="405.34" y="486.01" width="28.67" height="2.61" fill="#2c3424" stroke="#111" stroke-width="1.1"/>
<rect x="405.34" y="484.70" width="28.67" height="1.30" fill="#2c3424" stroke="#111" stroke-width="1.1"/>
<rect x="405.34" y="483.40" width="28.67" height="1.30" fill="#2c3424" stroke="#111" stroke-width="1.1"/>
<rect x="456.40" y="743.47" width="28.67" height="65.83" fill="#fa9696" stroke="#111" stroke-width="1.1"/>
<rect x="456.40" y="645.37" width="28.67" height="98.10" fill="#82cffd" stroke="#111" stroke-width="1.1"/>
<rect x="456.40" y="593.55" width="28.67" height="51.82" fill="#c0c0c0" stroke="#111" stroke-width="1.1"/>
<rect x="456.40" y="533.91" width="28.67" height="59.64" fill="#b8e864" stroke="#111" stroke-width="1.1"/>
<rect x="456.40" y="511.43" width="28.67" height="22.49" fill="#e070f5" stroke="#111" stroke-width="1.1"/>
<rect x="456.40" y="501.65" width="28.67" height="9.78" fill="#ff8000" stroke="#111" stroke-width="1.1"/>
<rect x="456.40" y="491.71" width="28.67" height="9.94" fill="#ffff00" stroke="#111" stroke-width="1.1"/>
<rect x="456.40" y="489.10" width="28.67" height="2.61" fill="#8000ff" stroke="#111" stroke-width="1.1"/>
<rect x="456.40" y="486.98" width="28.67" height="2.12" fill="#2f6a66" stroke="#111" stroke-width="1.1"/>
<rect x="456.40" y="483.40" width="28.67" height="3.58" fill="#ede37a" stroke="#111" stroke-width="1.1"/>
<rect x="485.07" y="666.56" width="28.67" height="142.74" fill="#fa9696" stroke="#111" stroke-width="1.1"/>
<rect x="485.07" y="581.82" width="28.67" height="84.73" fill="#82cffd" stroke="#111" stroke-width="1.1"/>
<rect x="485.07" y="546.95" width="28.67" height="34.87" fill="#c0c0c0" stroke="#111" stroke-width="1.1"/>
<rect x="485.07" y="524.30" width="28.67" height="22.65" fill="#b8e864" stroke="#111" stroke-width="1.1"/>
<rect x="485.07" y="514.69" width="28.67" height="9.61" fill="#e070f5" stroke="#111" stroke-width="1.1"/>
<rect x="485.07" y="504.58" width="28.67" height="10.10" fill="#ff8000" stroke="#111" stroke-width="1.1"/>
<rect x="485.07" y="490.57" width="28.67" height="14.01" fill="#ffff00" stroke="#111" stroke-width="1.1"/>
<rect x="485.07" y="488.29" width="28.67" height="2.28" fill="#2c3424" stroke="#111" stroke-width="1.1"/>
<rect x="485.07" y="483.40" width="28.67" height="4.89" fill="#ede37a" stroke="#111" stroke-width="1.1"/>
<rect x="513.74" y="688.72" width="28.67" height="120.58" fill="#fa9696" stroke="#111" stroke-width="1.1"/>
<rect x="513.74" y="588.67" width="28.67" height="100.05" fill="#82cffd" stroke="#111" stroke-width="1.1"/>
<rect x="513.74" y="547.93" width="28.67" height="40.74" fill="#c0c0c0" stroke="#111" stroke-width="1.1"/>
<rect x="513.74" y="524.30" width="28.67" height="23.63" fill="#b8e864" stroke="#111" stroke-width="1.1"/>
<rect x="513.74" y="512.89" width="28.67" height="11.41" fill="#e070f5" stroke="#111" stroke-width="1.1"/>
<rect x="513.74" y="500.67" width="28.67" height="12.22" fill="#ff8000" stroke="#111" stroke-width="1.1"/>
<rect x="513.74" y="490.57" width="28.67" height="10.10" fill="#ffff00" stroke="#111" stroke-width="1.1"/>
<rect x="513.74" y="488.13" width="28.67" height="2.44" fill="#2c3424" stroke="#111" stroke-width="1.1"/>
<rect x="513.74" y="483.40" width="28.67" height="4.73" fill="#ede37a" stroke="#111" stroke-width="1.1"/>
<rect x="120.9" y="483.4" width="432.9" height="325.9" fill="none" stroke="#000" stroke-width="2"/>
<line x1="115.9" y1="809.3" x2="120.9" y2="809.3" stroke="#000" stroke-width="2"/>
<text x="112.3" y="815.8" font-size="19" text-anchor="end" stroke="#000" stroke-width="0.3">0</text>
<line x1="115.9" y1="744.1" x2="120.9" y2="744.1" stroke="#000" stroke-width="2"/>
<text x="112.3" y="750.6" font-size="19" text-anchor="end" stroke="#000" stroke-width="0.3">20</text>
<line x1="115.9" y1="678.9" x2="120.9" y2="678.9" stroke="#000" stroke-width="2"/>
<text x="112.3" y="685.4" font-size="19" text-anchor="end" stroke="#000" stroke-width="0.3">40</text>
<line x1="115.9" y1="613.8" x2="120.9" y2="613.8" stroke="#000" stroke-width="2"/>
<text x="112.3" y="620.3" font-size="19" text-anchor="end" stroke="#000" stroke-width="0.3">60</text>
<line x1="115.9" y1="548.6" x2="120.9" y2="548.6" stroke="#000" stroke-width="2"/>
<text x="112.3" y="555.1" font-size="19" text-anchor="end" stroke="#000" stroke-width="0.3">80</text>
<line x1="115.9" y1="483.4" x2="120.9" y2="483.4" stroke="#000" stroke-width="2"/>
<text x="112.3" y="489.9" font-size="19" text-anchor="end" stroke="#000" stroke-width="0.3">100</text>
<text x="141.2" y="824.7" font-size="13.5" text-anchor="middle" stroke="#000" stroke-width="0.3">CK</text>
<text x="175.6" y="824.7" font-size="13.5" text-anchor="middle" stroke="#000" stroke-width="0.3">COS</text>
<text x="209.8" y="824.7" font-size="13.5" text-anchor="middle" stroke="#000" stroke-width="0.3">EPP</text>
<line x1="131.2" y1="831.0" x2="217.2" y2="831.0" stroke="#111" stroke-width="2.2"/>
<text x="174.2" y="854.2" font-size="21" text-anchor="middle" stroke="#000" stroke-width="0.3">0 day</text>
<text x="249.6" y="824.7" font-size="13.5" text-anchor="middle" stroke="#000" stroke-width="0.3">CK</text>
<text x="284.0" y="824.7" font-size="13.5" text-anchor="middle" stroke="#000" stroke-width="0.3">COS</text>
<text x="318.2" y="824.7" font-size="13.5" text-anchor="middle" stroke="#000" stroke-width="0.3">EPP</text>
<line x1="239.6" y1="831.0" x2="325.6" y2="831.0" stroke="#111" stroke-width="2.2"/>
<text x="282.6" y="854.2" font-size="21" text-anchor="middle" stroke="#000" stroke-width="0.3">2 day</text>
<text x="358.0" y="824.7" font-size="13.5" text-anchor="middle" stroke="#000" stroke-width="0.3">CK</text>
<text x="392.4" y="824.7" font-size="13.5" text-anchor="middle" stroke="#000" stroke-width="0.3">COS</text>
<text x="426.6" y="824.7" font-size="13.5" text-anchor="middle" stroke="#000" stroke-width="0.3">EPP</text>
<line x1="348.0" y1="831.0" x2="434.0" y2="831.0" stroke="#111" stroke-width="2.2"/>
<text x="391.0" y="854.2" font-size="21" text-anchor="middle" stroke="#000" stroke-width="0.3">8 day</text>
<text x="466.4" y="824.7" font-size="13.5" text-anchor="middle" stroke="#000" stroke-width="0.3">CK</text>
<text x="500.8" y="824.7" font-size="13.5" text-anchor="middle" stroke="#000" stroke-width="0.3">COS</text>
<text x="535.0" y="824.7" font-size="13.5" text-anchor="middle" stroke="#000" stroke-width="0.3">EPP</text>
<line x1="456.4" y1="831.0" x2="542.4" y2="831.0" stroke="#111" stroke-width="2.2"/>
<text x="499.4" y="854.2" font-size="21" text-anchor="middle" stroke="#000" stroke-width="0.3">20 day</text>
<rect x="559.70" y="483.80" width="28.70" height="12.90" fill="#fa9696" stroke="#111" stroke-width="1.3"/>
<text x="597.3" y="495.9" font-size="16" stroke="#000" stroke-width="0.3">Firmicutes</text>
<rect x="559.70" y="502.78" width="28.70" height="12.90" fill="#82cffd" stroke="#111" stroke-width="1.3"/>
<text x="597.3" y="514.9" font-size="16" stroke="#000" stroke-width="0.3">Proteobacteria</text>
<rect x="559.70" y="521.76" width="28.70" height="12.90" fill="#c0c0c0" stroke="#111" stroke-width="1.3"/>
<text x="597.3" y="533.9" font-size="16" stroke="#000" stroke-width="0.3">Actinobacteriota</text>
<rect x="559.70" y="540.74" width="28.70" height="12.90" fill="#b8e864" stroke="#111" stroke-width="1.3"/>
<text x="597.3" y="552.8" font-size="16" stroke="#000" stroke-width="0.3">Bacteroidota</text>
<rect x="559.70" y="559.72" width="28.70" height="12.90" fill="#e070f5" stroke="#111" stroke-width="1.3"/>
<text x="597.3" y="571.8" font-size="16" stroke="#000" stroke-width="0.3">Chloroflexi</text>
<rect x="559.70" y="578.70" width="28.70" height="12.90" fill="#ff8000" stroke="#111" stroke-width="1.3"/>
<text x="597.3" y="590.8" font-size="16" stroke="#000" stroke-width="0.3">Gemmatimonadota</text>
<rect x="559.70" y="597.68" width="28.70" height="12.90" fill="#ffff00" stroke="#111" stroke-width="1.3"/>
<text x="597.3" y="609.8" font-size="16" stroke="#000" stroke-width="0.3">Myxococcota</text>
<rect x="559.70" y="616.66" width="28.70" height="12.90" fill="#8000ff" stroke="#111" stroke-width="1.3"/>
<text x="597.3" y="628.8" font-size="16" stroke="#000" stroke-width="0.3">Patescibacteria</text>
<rect x="559.70" y="635.64" width="28.70" height="12.90" fill="#80ffff" stroke="#111" stroke-width="1.3"/>
<text x="597.3" y="647.7" font-size="16" stroke="#000" stroke-width="0.3">Deinococcota</text>
<rect x="559.70" y="654.62" width="28.70" height="12.90" fill="#ede37a" stroke="#111" stroke-width="1.3"/>
<text x="597.3" y="666.7" font-size="16" stroke="#000" stroke-width="0.3">Others</text>
<text transform="translate(75,647.4) rotate(-90)" font-size="25.1" text-anchor="middle" stroke="#000" stroke-width="0.3">Relative abundance at phylum level (%)</text>
<text x="3.2" y="467.6" font-size="46.5">D</text>
<rect x="860.00" y="418.50" width="21.72" height="19.90" fill="#eab2b2"/>
<rect x="881.72" y="418.50" width="21.72" height="19.90" fill="#e09090"/>
<rect x="903.43" y="418.50" width="21.72" height="19.90" fill="#b21c20"/>
<rect x="925.15" y="418.50" width="21.72" height="19.90" fill="#fbefef"/>
<rect x="946.87" y="418.50" width="21.72" height="19.90" fill="#f6e0e0"/>
<rect x="968.58" y="418.50" width="21.72" height="19.90" fill="#d67070"/>
<rect x="990.30" y="418.50" width="21.72" height="19.90" fill="#6c6cb8"/>
<rect x="1012.02" y="418.50" width="21.72" height="19.90" fill="#cccce6"/>
<rect x="1033.73" y="418.50" width="21.72" height="19.90" fill="#f0c9c9"/>
<rect x="1055.45" y="418.50" width="21.72" height="19.90" fill="#6c6cb8"/>
<rect x="1077.17" y="418.50" width="21.72" height="19.90" fill="#6c6cb8"/>
<rect x="1098.88" y="418.50" width="21.72" height="19.90" fill="#acacd8"/>
<text x="1128.6" y="432.9" font-size="14" font-style="italic" stroke="#000" stroke-width="0.35">Lactobacillus</text>
<rect x="860.00" y="438.40" width="21.72" height="19.90" fill="#cc5858"/>
<rect x="881.72" y="438.40" width="21.72" height="19.90" fill="#e6a4a4"/>
<rect x="903.43" y="438.40" width="21.72" height="19.90" fill="#f4d8d8"/>
<rect x="925.15" y="438.40" width="21.72" height="19.90" fill="#e49e9e"/>
<rect x="946.87" y="438.40" width="21.72" height="19.90" fill="#f8e8e8"/>
<rect x="968.58" y="438.40" width="21.72" height="19.90" fill="#efeff7"/>
<rect x="990.30" y="438.40" width="21.72" height="19.90" fill="#fbefef"/>
<rect x="1012.02" y="438.40" width="21.72" height="19.90" fill="#bfbfe0"/>
<rect x="1033.73" y="438.40" width="21.72" height="19.90" fill="#bfbfe0"/>
<rect x="1055.45" y="438.40" width="21.72" height="19.90" fill="#b9b9de"/>
<rect x="1077.17" y="438.40" width="21.72" height="19.90" fill="#8c8ccc"/>
<rect x="1098.88" y="438.40" width="21.72" height="19.90" fill="#7f7fc4"/>
<text x="1128.6" y="452.8" font-size="14" font-style="italic" stroke="#000" stroke-width="0.35">Corynebacterium</text>
<rect x="860.00" y="458.30" width="21.72" height="19.90" fill="#eab2b2"/>
<rect x="881.72" y="458.30" width="21.72" height="19.90" fill="#c74b4b"/>
<rect x="903.43" y="458.30" width="21.72" height="19.90" fill="#cc5858"/>
<rect x="925.15" y="458.30" width="21.72" height="19.90" fill="#f4d8d8"/>
<rect x="946.87" y="458.30" width="21.72" height="19.90" fill="#fdf7f7"/>
<rect x="968.58" y="458.30" width="21.72" height="19.90" fill="#eec1c1"/>
<rect x="990.30" y="458.30" width="21.72" height="19.90" fill="#acacd8"/>
<rect x="1012.02" y="458.30" width="21.72" height="19.90" fill="#acacd8"/>
<rect x="1033.73" y="458.30" width="21.72" height="19.90" fill="#d6d6eb"/>
<rect x="1055.45" y="458.30" width="21.72" height="19.90" fill="#7f7fc4"/>
<rect x="1077.17" y="458.30" width="21.72" height="19.90" fill="#00008b"/>
<rect x="1098.88" y="458.30" width="21.72" height="19.90" fill="#8c8ccc"/>
<text x="1128.6" y="472.7" font-size="14" font-style="italic" stroke="#000" stroke-width="0.35">Enterococcus</text>
<rect x="860.00" y="478.20" width="21.72" height="19.90" fill="#f4d8d8"/>
<rect x="881.72" y="478.20" width="21.72" height="19.90" fill="#ca5454"/>
<rect x="903.43" y="478.20" width="21.72" height="19.90" fill="#d67070"/>
<rect x="925.15" y="478.20" width="21.72" height="19.90" fill="#9999d1"/>
<rect x="946.87" y="478.20" width="21.72" height="19.90" fill="#e9e9f5"/>
<rect x="968.58" y="478.20" width="21.72" height="19.90" fill="#dadaed"/>
<rect x="990.30" y="478.20" width="21.72" height="19.90" fill="#6666b5"/>
<rect x="1012.02" y="478.20" width="21.72" height="19.90" fill="#8c8ccc"/>
<rect x="1033.73" y="478.20" width="21.72" height="19.90" fill="#8c8ccc"/>
<rect x="1055.45" y="478.20" width="21.72" height="19.90" fill="#6666b5"/>
<rect x="1077.17" y="478.20" width="21.72" height="19.90" fill="#00008b"/>
<rect x="1098.88" y="478.20" width="21.72" height="19.90" fill="#acacd8"/>
<text x="1128.6" y="492.6" font-size="14" font-style="italic" stroke="#000" stroke-width="0.35">Klebsiella</text>
<rect x="860.00" y="498.10" width="21.72" height="19.90" fill="#b62427"/>
<rect x="881.72" y="498.10" width="21.72" height="19.90" fill="#c03a3b"/>
<rect x="903.43" y="498.10" width="21.72" height="19.90" fill="#ca5454"/>
<rect x="925.15" y="498.10" width="21.72" height="19.90" fill="#f2d0d0"/>
<rect x="946.87" y="498.10" width="21.72" height="19.90" fill="#ecbaba"/>
<rect x="968.58" y="498.10" width="21.72" height="19.90" fill="#f4d8d8"/>
<rect x="990.30" y="498.10" width="21.72" height="19.90" fill="#f4f4fa"/>
<rect x="1012.02" y="498.10" width="21.72" height="19.90" fill="#d6d6eb"/>
<rect x="1033.73" y="498.10" width="21.72" height="19.90" fill="#dfdff0"/>
<rect x="1055.45" y="498.10" width="21.72" height="19.90" fill="#b9b9de"/>
<rect x="1077.17" y="498.10" width="21.72" height="19.90" fill="#00008b"/>
<rect x="1098.88" y="498.10" width="21.72" height="19.90" fill="#00008b"/>
<text x="1128.6" y="512.5" font-size="14" font-style="italic" stroke="#000" stroke-width="0.35">Staphylococcus</text>
<rect x="860.00" y="518.00" width="21.72" height="19.90" fill="#c03a3b"/>
<rect x="881.72" y="518.00" width="21.72" height="19.90" fill="#c74b4b"/>
<rect x="903.43" y="518.00" width="21.72" height="19.90" fill="#da7d7d"/>
<rect x="925.15" y="518.00" width="21.72" height="19.90" fill="#eec1c1"/>
<rect x="946.87" y="518.00" width="21.72" height="19.90" fill="#e09090"/>
<rect x="968.58" y="518.00" width="21.72" height="19.90" fill="#eec1c1"/>
<rect x="990.30" y="518.00" width="21.72" height="19.90" fill="#f2d0d0"/>
<rect x="1012.02" y="518.00" width="21.72" height="19.90" fill="#ffffff"/>
<rect x="1033.73" y="518.00" width="21.72" height="19.90" fill="#7f7fc4"/>
<rect x="1055.45" y="518.00" width="21.72" height="19.90" fill="#efeff7"/>
<rect x="1077.17" y="518.00" width="21.72" height="19.90" fill="#d6d6eb"/>
<rect x="1098.88" y="518.00" width="21.72" height="19.90" fill="#a6a6d6"/>
<text x="1128.6" y="532.4" font-size="14" font-style="italic" stroke="#000" stroke-width="0.35">Brevibacterium</text>
<rect x="860.00" y="537.90" width="21.72" height="19.90" fill="#cc5858"/>
<rect x="881.72" y="537.90" width="21.72" height="19.90" fill="#d06262"/>
<rect x="903.43" y="537.90" width="21.72" height="19.90" fill="#c74b4b"/>
<rect x="925.15" y="537.90" width="21.72" height="19.90" fill="#eab2b2"/>
<rect x="946.87" y="537.90" width="21.72" height="19.90" fill="#de8a8a"/>
<rect x="968.58" y="537.90" width="21.72" height="19.90" fill="#ecbaba"/>
<rect x="990.30" y="537.90" width="21.72" height="19.90" fill="#ffffff"/>
<rect x="1012.02" y="537.90" width="21.72" height="19.90" fill="#f6e0e0"/>
<rect x="1033.73" y="537.90" width="21.72" height="19.90" fill="#fafafc"/>
<rect x="1055.45" y="537.90" width="21.72" height="19.90" fill="#dfdff0"/>
<rect x="1077.17" y="537.90" width="21.72" height="19.90" fill="#dfdff0"/>
<rect x="1098.88" y="537.90" width="21.72" height="19.90" fill="#b9b9de"/>
<text x="1128.6" y="552.3" font-size="14" font-style="italic" stroke="#000" stroke-width="0.35">Weissella</text>
<rect x="860.00" y="557.80" width="21.72" height="19.90" fill="#ce5d5d"/>
<rect x="881.72" y="557.80" width="21.72" height="19.90" fill="#d26666"/>
<rect x="903.43" y="557.80" width="21.72" height="19.90" fill="#da7d7d"/>
<rect x="925.15" y="557.80" width="21.72" height="19.90" fill="#b21c20"/>
<rect x="946.87" y="557.80" width="21.72" height="19.90" fill="#b92b2e"/>
<rect x="968.58" y="557.80" width="21.72" height="19.90" fill="#b62427"/>
<rect x="990.30" y="557.80" width="21.72" height="19.90" fill="#cc5858"/>
<rect x="1012.02" y="557.80" width="21.72" height="19.90" fill="#cc5858"/>
<rect x="1033.73" y="557.80" width="21.72" height="19.90" fill="#c74b4b"/>
<rect x="1055.45" y="557.80" width="21.72" height="19.90" fill="#cc5858"/>
<rect x="1077.17" y="557.80" width="21.72" height="19.90" fill="#c03a3b"/>
<rect x="1098.88" y="557.80" width="21.72" height="19.90" fill="#c44242"/>
<text x="1128.6" y="572.2" font-size="14" font-style="italic" stroke="#000" stroke-width="0.35">Bacillus</text>
<rect x="860.00" y="577.70" width="21.72" height="19.90" fill="#eab2b2"/>
<rect x="881.72" y="577.70" width="21.72" height="19.90" fill="#d26666"/>
<rect x="903.43" y="577.70" width="21.72" height="19.90" fill="#eab2b2"/>
<rect x="925.15" y="577.70" width="21.72" height="19.90" fill="#d06262"/>
<rect x="946.87" y="577.70" width="21.72" height="19.90" fill="#acacd8"/>
<rect x="968.58" y="577.70" width="21.72" height="19.90" fill="#e9e9f5"/>
<rect x="990.30" y="577.70" width="21.72" height="19.90" fill="#e49e9e"/>
<rect x="1012.02" y="577.70" width="21.72" height="19.90" fill="#ecbaba"/>
<rect x="1033.73" y="577.70" width="21.72" height="19.90" fill="#e8abab"/>
<rect x="1055.45" y="577.70" width="21.72" height="19.90" fill="#eec1c1"/>
<rect x="1077.17" y="577.70" width="21.72" height="19.90" fill="#eec1c1"/>
<rect x="1098.88" y="577.70" width="21.72" height="19.90" fill="#ecbaba"/>
<text x="1128.6" y="592.1" font-size="14" font-style="italic" stroke="#000" stroke-width="0.35">Pseudomonas</text>
<rect x="860.00" y="597.60" width="21.72" height="19.90" fill="#d6d6eb"/>
<rect x="881.72" y="597.60" width="21.72" height="19.90" fill="#cccce6"/>
<rect x="903.43" y="597.60" width="21.72" height="19.90" fill="#b9b9de"/>
<rect x="925.15" y="597.60" width="21.72" height="19.90" fill="#e4e4f2"/>
<rect x="946.87" y="597.60" width="21.72" height="19.90" fill="#a6a6d6"/>
<rect x="968.58" y="597.60" width="21.72" height="19.90" fill="#8c8ccc"/>
<rect x="990.30" y="597.60" width="21.72" height="19.90" fill="#d67070"/>
<rect x="1012.02" y="597.60" width="21.72" height="19.90" fill="#c03a3b"/>
<rect x="1033.73" y="597.60" width="21.72" height="19.90" fill="#c03a3b"/>
<rect x="1055.45" y="597.60" width="21.72" height="19.90" fill="#e49e9e"/>
<rect x="1077.17" y="597.60" width="21.72" height="19.90" fill="#e8abab"/>
<rect x="1098.88" y="597.60" width="21.72" height="19.90" fill="#f6e0e0"/>
<text x="1128.6" y="612.0" font-size="14" font-style="italic" stroke="#000" stroke-width="0.35">Cellvibrio</text>
<rect x="860.00" y="617.50" width="21.72" height="19.90" fill="#f4d8d8"/>
<rect x="881.72" y="617.50" width="21.72" height="19.90" fill="#ecbaba"/>
<rect x="903.43" y="617.50" width="21.72" height="19.90" fill="#fbefef"/>
<rect x="925.15" y="617.50" width="21.72" height="19.90" fill="#dadaed"/>
<rect x="946.87" y="617.50" width="21.72" height="19.90" fill="#fdf7f7"/>
<rect x="968.58" y="617.50" width="21.72" height="19.90" fill="#6666b5"/>
<rect x="990.30" y="617.50" width="21.72" height="19.90" fill="#da7d7d"/>
<rect x="1012.02" y="617.50" width="21.72" height="19.90" fill="#bd3334"/>
<rect x="1033.73" y="617.50" width="21.72" height="19.90" fill="#c74b4b"/>
<rect x="1055.45" y="617.50" width="21.72" height="19.90" fill="#e9e9f5"/>
<rect x="1077.17" y="617.50" width="21.72" height="19.90" fill="#6666b5"/>
<rect x="1098.88" y="617.50" width="21.72" height="19.90" fill="#acacd8"/>
<text x="1128.6" y="631.9" font-size="14" font-style="italic" stroke="#000" stroke-width="0.35">Flavobacterium</text>
<rect x="860.00" y="637.40" width="21.72" height="19.90" fill="#f6e0e0"/>
<rect x="881.72" y="637.40" width="21.72" height="19.90" fill="#fbefef"/>
<rect x="903.43" y="637.40" width="21.72" height="19.90" fill="#f4d8d8"/>
<rect x="925.15" y="637.40" width="21.72" height="19.90" fill="#cc5858"/>
<rect x="946.87" y="637.40" width="21.72" height="19.90" fill="#00008b"/>
<rect x="968.58" y="637.40" width="21.72" height="19.90" fill="#6666b5"/>
<rect x="990.30" y="637.40" width="21.72" height="19.90" fill="#ce5d5d"/>
<rect x="1012.02" y="637.40" width="21.72" height="19.90" fill="#ce5d5d"/>
<rect x="1033.73" y="637.40" width="21.72" height="19.90" fill="#d26666"/>
<rect x="1055.45" y="637.40" width="21.72" height="19.90" fill="#da7d7d"/>
<rect x="1077.17" y="637.40" width="21.72" height="19.90" fill="#e6a4a4"/>
<rect x="1098.88" y="637.40" width="21.72" height="19.90" fill="#da7d7d"/>
<text x="1128.6" y="651.8" font-size="14" font-style="italic" stroke="#000" stroke-width="0.35">Pusillimonas</text>
<rect x="860.00" y="657.30" width="21.72" height="19.90" fill="#7f7fc4"/>
<rect x="881.72" y="657.30" width="21.72" height="19.90" fill="#9999d1"/>
<rect x="903.43" y="657.30" width="21.72" height="19.90" fill="#8c8ccc"/>
<rect x="925.15" y="657.30" width="21.72" height="19.90" fill="#e49e9e"/>
<rect x="946.87" y="657.30" width="21.72" height="19.90" fill="#e9e9f5"/>
<rect x="968.58" y="657.30" width="21.72" height="19.90" fill="#cccce6"/>
<rect x="990.30" y="657.30" width="21.72" height="19.90" fill="#e09090"/>
<rect x="1012.02" y="657.30" width="21.72" height="19.90" fill="#c74b4b"/>
<rect x="1033.73" y="657.30" width="21.72" height="19.90" fill="#d67070"/>
<rect x="1055.45" y="657.30" width="21.72" height="19.90" fill="#e09090"/>
<rect x="1077.17" y="657.30" width="21.72" height="19.90" fill="#eec1c1"/>
<rect x="1098.88" y="657.30" width="21.72" height="19.90" fill="#fbefef"/>
<text x="1128.6" y="671.7" font-size="14" font-style="italic" stroke="#000" stroke-width="0.35">Idiomarina</text>
<rect x="860.00" y="677.20" width="21.72" height="19.90" fill="#fdf7f7"/>
<rect x="881.72" y="677.20" width="21.72" height="19.90" fill="#f2d0d0"/>
<rect x="903.43" y="677.20" width="21.72" height="19.90" fill="#f2d0d0"/>
<rect x="925.15" y="677.20" width="21.72" height="19.90" fill="#e09090"/>
<rect x="946.87" y="677.20" width="21.72" height="19.90" fill="#e29797"/>
<rect x="968.58" y="677.20" width="21.72" height="19.90" fill="#e49e9e"/>
<rect x="990.30" y="677.20" width="21.72" height="19.90" fill="#e49e9e"/>
<rect x="1012.02" y="677.20" width="21.72" height="19.90" fill="#e6a4a4"/>
<rect x="1033.73" y="677.20" width="21.72" height="19.90" fill="#e49e9e"/>
<rect x="1055.45" y="677.20" width="21.72" height="19.90" fill="#dc8383"/>
<rect x="1077.17" y="677.20" width="21.72" height="19.90" fill="#da7d7d"/>
<rect x="1098.88" y="677.20" width="21.72" height="19.90" fill="#dc8383"/>
<text x="1128.6" y="691.6" font-size="14" font-style="italic" stroke="#000" stroke-width="0.35">Paenibacillus</text>
<rect x="860.00" y="697.10" width="21.72" height="19.90" fill="#7f7fc4"/>
<rect x="881.72" y="697.10" width="21.72" height="19.90" fill="#a6a6d6"/>
<rect x="903.43" y="697.10" width="21.72" height="19.90" fill="#cccce6"/>
<rect x="925.15" y="697.10" width="21.72" height="19.90" fill="#ecbaba"/>
<rect x="946.87" y="697.10" width="21.72" height="19.90" fill="#e6a4a4"/>
<rect x="968.58" y="697.10" width="21.72" height="19.90" fill="#e8abab"/>
<rect x="990.30" y="697.10" width="21.72" height="19.90" fill="#dc8383"/>
<rect x="1012.02" y="697.10" width="21.72" height="19.90" fill="#de8a8a"/>
<rect x="1033.73" y="697.10" width="21.72" height="19.90" fill="#de8a8a"/>
<rect x="1055.45" y="697.10" width="21.72" height="19.90" fill="#e09090"/>
<rect x="1077.17" y="697.10" width="21.72" height="19.90" fill="#d87676"/>
<rect x="1098.88" y="697.10" width="21.72" height="19.90" fill="#dc8383"/>
<text x="1128.6" y="711.5" font-size="14" font-style="italic" stroke="#000" stroke-width="0.35">norank_f__norank_o__norank_c__S0134_terrestrial_group</text>
<rect x="860.00" y="717.00" width="21.72" height="19.90" fill="#f8e8e8"/>
<rect x="881.72" y="717.00" width="21.72" height="19.90" fill="#f8e8e8"/>
<rect x="903.43" y="717.00" width="21.72" height="19.90" fill="#f4d8d8"/>
<rect x="925.15" y="717.00" width="21.72" height="19.90" fill="#e09090"/>
<rect x="946.87" y="717.00" width="21.72" height="19.90" fill="#e9e9f5"/>
<rect x="968.58" y="717.00" width="21.72" height="19.90" fill="#fdf7f7"/>
<rect x="990.30" y="717.00" width="21.72" height="19.90" fill="#d26666"/>
<rect x="1012.02" y="717.00" width="21.72" height="19.90" fill="#da7d7d"/>
<rect x="1033.73" y="717.00" width="21.72" height="19.90" fill="#da7d7d"/>
<rect x="1055.45" y="717.00" width="21.72" height="19.90" fill="#d87676"/>
<rect x="1077.17" y="717.00" width="21.72" height="19.90" fill="#d46b6b"/>
<rect x="1098.88" y="717.00" width="21.72" height="19.90" fill="#d06262"/>
<text x="1128.6" y="731.4" font-size="14" font-style="italic" stroke="#000" stroke-width="0.35">unclassified_f__Rhizobiaceae</text>
<rect x="860.00" y="736.90" width="21.72" height="19.90" fill="#6666b5"/>
<rect x="881.72" y="736.90" width="21.72" height="19.90" fill="#6666b5"/>
<rect x="903.43" y="736.90" width="21.72" height="19.90" fill="#6666b5"/>
<rect x="925.15" y="736.90" width="21.72" height="19.90" fill="#e9e9f5"/>
<rect x="946.87" y="736.90" width="21.72" height="19.90" fill="#a6a6d6"/>
<rect x="968.58" y="736.90" width="21.72" height="19.90" fill="#f4d8d8"/>
<rect x="990.30" y="736.90" width="21.72" height="19.90" fill="#e29797"/>
<rect x="1012.02" y="736.90" width="21.72" height="19.90" fill="#de8a8a"/>
<rect x="1033.73" y="736.90" width="21.72" height="19.90" fill="#dc8383"/>
<rect x="1055.45" y="736.90" width="21.72" height="19.90" fill="#d87676"/>
<rect x="1077.17" y="736.90" width="21.72" height="19.90" fill="#e6a4a4"/>
<rect x="1098.88" y="736.90" width="21.72" height="19.90" fill="#d67070"/>
<text x="1128.6" y="751.3" font-size="14" font-style="italic" stroke="#000" stroke-width="0.35">Chelativorans</text>
<rect x="860.00" y="756.80" width="21.72" height="19.90" fill="#ffffff"/>
<rect x="881.72" y="756.80" width="21.72" height="19.90" fill="#d1d1e8"/>
<rect x="903.43" y="756.80" width="21.72" height="19.90" fill="#f4d8d8"/>
<rect x="925.15" y="756.80" width="21.72" height="19.90" fill="#fdf7f7"/>
<rect x="946.87" y="756.80" width="21.72" height="19.90" fill="#00008b"/>
<rect x="968.58" y="756.80" width="21.72" height="19.90" fill="#00008b"/>
<rect x="990.30" y="756.80" width="21.72" height="19.90" fill="#e29797"/>
<rect x="1012.02" y="756.80" width="21.72" height="19.90" fill="#e29797"/>
<rect x="1033.73" y="756.80" width="21.72" height="19.90" fill="#ecbaba"/>
<rect x="1055.45" y="756.80" width="21.72" height="19.90" fill="#c74b4b"/>
<rect x="1077.17" y="756.80" width="21.72" height="19.90" fill="#de8a8a"/>
<rect x="1098.88" y="756.80" width="21.72" height="19.90" fill="#da7d7d"/>
<text x="1128.6" y="771.2" font-size="14" font-style="italic" stroke="#000" stroke-width="0.35">norank_f__MWH-CFBk5</text>
<rect x="860.00" y="776.70" width="21.72" height="19.90" fill="#9999d1"/>
<rect x="881.72" y="776.70" width="21.72" height="19.90" fill="#9999d1"/>
<rect x="903.43" y="776.70" width="21.72" height="19.90" fill="#c6c6e3"/>
<rect x="925.15" y="776.70" width="21.72" height="19.90" fill="#da7d7d"/>
<rect x="946.87" y="776.70" width="21.72" height="19.90" fill="#00008b"/>
<rect x="968.58" y="776.70" width="21.72" height="19.90" fill="#9999d1"/>
<rect x="990.30" y="776.70" width="21.72" height="19.90" fill="#ce5d5d"/>
<rect x="1012.02" y="776.70" width="21.72" height="19.90" fill="#e9e9f5"/>
<rect x="1033.73" y="776.70" width="21.72" height="19.90" fill="#dc8383"/>
<rect x="1055.45" y="776.70" width="21.72" height="19.90" fill="#d46b6b"/>
<rect x="1077.17" y="776.70" width="21.72" height="19.90" fill="#e6a4a4"/>
<rect x="1098.88" y="776.70" width="21.72" height="19.90" fill="#e6a4a4"/>
<text x="1128.6" y="791.1" font-size="14" font-style="italic" stroke="#000" stroke-width="0.35">Luteimonas</text>
<rect x="860.00" y="796.60" width="21.72" height="19.90" fill="#f2d0d0"/>
<rect x="881.72" y="796.60" width="21.72" height="19.90" fill="#fbefef"/>
<rect x="903.43" y="796.60" width="21.72" height="19.90" fill="#eec1c1"/>
<rect x="925.15" y="796.60" width="21.72" height="19.90" fill="#de8a8a"/>
<rect x="946.87" y="796.60" width="21.72" height="19.90" fill="#e9e9f5"/>
<rect x="968.58" y="796.60" width="21.72" height="19.90" fill="#f2d0d0"/>
<rect x="990.30" y="796.60" width="21.72" height="19.90" fill="#d06262"/>
<rect x="1012.02" y="796.60" width="21.72" height="19.90" fill="#e8abab"/>
<rect x="1033.73" y="796.60" width="21.72" height="19.90" fill="#ecbaba"/>
<rect x="1055.45" y="796.60" width="21.72" height="19.90" fill="#ca5454"/>
<rect x="1077.17" y="796.60" width="21.72" height="19.90" fill="#dc8383"/>
<rect x="1098.88" y="796.60" width="21.72" height="19.90" fill="#da7d7d"/>
<text x="1128.6" y="811.0" font-size="14" font-style="italic" stroke="#000" stroke-width="0.35">norank_f__JG30-KF-CM45</text>
<rect x="860.00" y="816.50" width="21.72" height="19.90" fill="#f4f4fa"/>
<rect x="881.72" y="816.50" width="21.72" height="19.90" fill="#d6d6eb"/>
<rect x="903.43" y="816.50" width="21.72" height="19.90" fill="#fefbfb"/>
<rect x="925.15" y="816.50" width="21.72" height="19.90" fill="#e49e9e"/>
<rect x="946.87" y="816.50" width="21.72" height="19.90" fill="#fefbfb"/>
<rect x="968.58" y="816.50" width="21.72" height="19.90" fill="#f4f4fa"/>
<rect x="990.30" y="816.50" width="21.72" height="19.90" fill="#d06262"/>
<rect x="1012.02" y="816.50" width="21.72" height="19.90" fill="#f2d0d0"/>
<rect x="1033.73" y="816.50" width="21.72" height="19.90" fill="#f0c9c9"/>
<rect x="1055.45" y="816.50" width="21.72" height="19.90" fill="#ca5454"/>
<rect x="1077.17" y="816.50" width="21.72" height="19.90" fill="#d67070"/>
<rect x="1098.88" y="816.50" width="21.72" height="19.90" fill="#d67070"/>
<text x="1128.6" y="830.9" font-size="14" font-style="italic" stroke="#000" stroke-width="0.35">norank_f__Fodinicurvataceae</text>
<rect x="860.00" y="836.40" width="21.72" height="19.90" fill="#c44242"/>
<rect x="881.72" y="836.40" width="21.72" height="19.90" fill="#da7d7d"/>
<rect x="903.43" y="836.40" width="21.72" height="19.90" fill="#e29797"/>
<rect x="925.15" y="836.40" width="21.72" height="19.90" fill="#ca5454"/>
<rect x="946.87" y="836.40" width="21.72" height="19.90" fill="#d06262"/>
<rect x="968.58" y="836.40" width="21.72" height="19.90" fill="#d46b6b"/>
<rect x="990.30" y="836.40" width="21.72" height="19.90" fill="#d87676"/>
<rect x="1012.02" y="836.40" width="21.72" height="19.90" fill="#e09090"/>
<rect x="1033.73" y="836.40" width="21.72" height="19.90" fill="#e49e9e"/>
<rect x="1055.45" y="836.40" width="21.72" height="19.90" fill="#d46b6b"/>
<rect x="1077.17" y="836.40" width="21.72" height="19.90" fill="#d46b6b"/>
<rect x="1098.88" y="836.40" width="21.72" height="19.90" fill="#e29797"/>
<text x="1128.6" y="850.8" font-size="14" font-style="italic" stroke="#000" stroke-width="0.35">Oceanobacillus</text>
<rect x="860.00" y="856.30" width="21.72" height="19.90" fill="#e4e4f2"/>
<rect x="881.72" y="856.30" width="21.72" height="19.90" fill="#d6d6eb"/>
<rect x="903.43" y="856.30" width="21.72" height="19.90" fill="#efeff7"/>
<rect x="925.15" y="856.30" width="21.72" height="19.90" fill="#da7d7d"/>
<rect x="946.87" y="856.30" width="21.72" height="19.90" fill="#c44242"/>
<rect x="968.58" y="856.30" width="21.72" height="19.90" fill="#c03a3b"/>
<rect x="990.30" y="856.30" width="21.72" height="19.90" fill="#f2d0d0"/>
<rect x="1012.02" y="856.30" width="21.72" height="19.90" fill="#d87676"/>
<rect x="1033.73" y="856.30" width="21.72" height="19.90" fill="#d67070"/>
<rect x="1055.45" y="856.30" width="21.72" height="19.90" fill="#f2d0d0"/>
<rect x="1077.17" y="856.30" width="21.72" height="19.90" fill="#ce5d5d"/>
<rect x="1098.88" y="856.30" width="21.72" height="19.90" fill="#d26666"/>
<text x="1128.6" y="870.7" font-size="14" font-style="italic" stroke="#000" stroke-width="0.35">norank_f__Bacillaceae</text>
<rect x="860.00" y="876.20" width="21.72" height="19.90" fill="#a6a6d6"/>
<rect x="881.72" y="876.20" width="21.72" height="19.90" fill="#8c8ccc"/>
<rect x="903.43" y="876.20" width="21.72" height="19.90" fill="#8c8ccc"/>
<rect x="925.15" y="876.20" width="21.72" height="19.90" fill="#ecbaba"/>
<rect x="946.87" y="876.20" width="21.72" height="19.90" fill="#d06262"/>
<rect x="968.58" y="876.20" width="21.72" height="19.90" fill="#e29797"/>
<rect x="990.30" y="876.20" width="21.72" height="19.90" fill="#da7d7d"/>
<rect x="1012.02" y="876.20" width="21.72" height="19.90" fill="#d67070"/>
<rect x="1033.73" y="876.20" width="21.72" height="19.90" fill="#d06262"/>
<rect x="1055.45" y="876.20" width="21.72" height="19.90" fill="#dc8383"/>
<rect x="1077.17" y="876.20" width="21.72" height="19.90" fill="#d26666"/>
<rect x="1098.88" y="876.20" width="21.72" height="19.90" fill="#d87676"/>
<text x="1128.6" y="890.6" font-size="14" font-style="italic" stroke="#000" stroke-width="0.35">norank_f__Methylococcaceae</text>
<rect x="860.00" y="896.10" width="21.72" height="19.90" fill="#fefbfb"/>
<rect x="881.72" y="896.10" width="21.72" height="19.90" fill="#fafafc"/>
<rect x="903.43" y="896.10" width="21.72" height="19.90" fill="#f4d8d8"/>
<rect x="925.15" y="896.10" width="21.72" height="19.90" fill="#ce5d5d"/>
<rect x="946.87" y="896.10" width="21.72" height="19.90" fill="#c44242"/>
<rect x="968.58" y="896.10" width="21.72" height="19.90" fill="#ce5d5d"/>
<rect x="990.30" y="896.10" width="21.72" height="19.90" fill="#d06262"/>
<rect x="1012.02" y="896.10" width="21.72" height="19.90" fill="#d26666"/>
<rect x="1033.73" y="896.10" width="21.72" height="19.90" fill="#ce5d5d"/>
<rect x="1055.45" y="896.10" width="21.72" height="19.90" fill="#ce5d5d"/>
<rect x="1077.17" y="896.10" width="21.72" height="19.90" fill="#cc5858"/>
<rect x="1098.88" y="896.10" width="21.72" height="19.90" fill="#d26666"/>
<text x="1128.6" y="910.5" font-size="14" font-style="italic" stroke="#000" stroke-width="0.35">Thermobifida</text>
<rect x="860.00" y="916.00" width="21.72" height="19.90" fill="#d1d1e8"/>
<rect x="881.72" y="916.00" width="21.72" height="19.90" fill="#cccce6"/>
<rect x="903.43" y="916.00" width="21.72" height="19.90" fill="#e4e4f2"/>
<rect x="925.15" y="916.00" width="21.72" height="19.90" fill="#d06262"/>
<rect x="946.87" y="916.00" width="21.72" height="19.90" fill="#cc5858"/>
<rect x="968.58" y="916.00" width="21.72" height="19.90" fill="#d46b6b"/>
<rect x="990.30" y="916.00" width="21.72" height="19.90" fill="#d87676"/>
<rect x="1012.02" y="916.00" width="21.72" height="19.90" fill="#da7d7d"/>
<rect x="1033.73" y="916.00" width="21.72" height="19.90" fill="#de8a8a"/>
<rect x="1055.45" y="916.00" width="21.72" height="19.90" fill="#d67070"/>
<rect x="1077.17" y="916.00" width="21.72" height="19.90" fill="#ce5d5d"/>
<rect x="1098.88" y="916.00" width="21.72" height="19.90" fill="#d46b6b"/>
<text x="1128.6" y="930.4" font-size="14" font-style="italic" stroke="#000" stroke-width="0.35">Thermobacillus</text>
<rect x="860.00" y="935.90" width="21.72" height="19.90" fill="#ffffff"/>
<rect x="881.72" y="935.90" width="21.72" height="19.90" fill="#d6d6eb"/>
<rect x="903.43" y="935.90" width="21.72" height="19.90" fill="#ffffff"/>
<rect x="925.15" y="935.90" width="21.72" height="19.90" fill="#fbefef"/>
<rect x="946.87" y="935.90" width="21.72" height="19.90" fill="#e8abab"/>
<rect x="968.58" y="935.90" width="21.72" height="19.90" fill="#ca5454"/>
<rect x="990.30" y="935.90" width="21.72" height="19.90" fill="#f4d8d8"/>
<rect x="1012.02" y="935.90" width="21.72" height="19.90" fill="#ecbaba"/>
<rect x="1033.73" y="935.90" width="21.72" height="19.90" fill="#d87676"/>
<rect x="1055.45" y="935.90" width="21.72" height="19.90" fill="#dfdff0"/>
<rect x="1077.17" y="935.90" width="21.72" height="19.90" fill="#e8abab"/>
<rect x="1098.88" y="935.90" width="21.72" height="19.90" fill="#da7d7d"/>
<text x="1128.6" y="950.3" font-size="14" font-style="italic" stroke="#000" stroke-width="0.35">Ureibacillus</text>
<rect x="860.00" y="955.80" width="21.72" height="19.90" fill="#6666b5"/>
<rect x="881.72" y="955.80" width="21.72" height="19.90" fill="#6666b5"/>
<rect x="903.43" y="955.80" width="21.72" height="19.90" fill="#00008b"/>
<rect x="925.15" y="955.80" width="21.72" height="19.90" fill="#dfdff0"/>
<rect x="946.87" y="955.80" width="21.72" height="19.90" fill="#e49e9e"/>
<rect x="968.58" y="955.80" width="21.72" height="19.90" fill="#ca5454"/>
<rect x="990.30" y="955.80" width="21.72" height="19.90" fill="#d6d6eb"/>
<rect x="1012.02" y="955.80" width="21.72" height="19.90" fill="#eab2b2"/>
<rect x="1033.73" y="955.80" width="21.72" height="19.90" fill="#e6a4a4"/>
<rect x="1055.45" y="955.80" width="21.72" height="19.90" fill="#acacd8"/>
<rect x="1077.17" y="955.80" width="21.72" height="19.90" fill="#e49e9e"/>
<rect x="1098.88" y="955.80" width="21.72" height="19.90" fill="#da7d7d"/>
<text x="1128.6" y="970.2" font-size="14" font-style="italic" stroke="#000" stroke-width="0.35">Geobacillus</text>
<rect x="860.00" y="975.70" width="21.72" height="19.90" fill="#e49e9e"/>
<rect x="881.72" y="975.70" width="21.72" height="19.90" fill="#eab2b2"/>
<rect x="903.43" y="975.70" width="21.72" height="19.90" fill="#f4d8d8"/>
<rect x="925.15" y="975.70" width="21.72" height="19.90" fill="#d46b6b"/>
<rect x="946.87" y="975.70" width="21.72" height="19.90" fill="#d26666"/>
<rect x="968.58" y="975.70" width="21.72" height="19.90" fill="#e09090"/>
<rect x="990.30" y="975.70" width="21.72" height="19.90" fill="#e49e9e"/>
<rect x="1012.02" y="975.70" width="21.72" height="19.90" fill="#f2d0d0"/>
<rect x="1033.73" y="975.70" width="21.72" height="19.90" fill="#f6e0e0"/>
<rect x="1055.45" y="975.70" width="21.72" height="19.90" fill="#e6a4a4"/>
<rect x="1077.17" y="975.70" width="21.72" height="19.90" fill="#eab2b2"/>
<rect x="1098.88" y="975.70" width="21.72" height="19.90" fill="#f2d0d0"/>
<text x="1128.6" y="990.1" font-size="14" font-style="italic" stroke="#000" stroke-width="0.35">unclassified_f__Bacillaceae</text>
<rect x="860.00" y="995.60" width="21.72" height="19.90" fill="#e4e4f2"/>
<rect x="881.72" y="995.60" width="21.72" height="19.90" fill="#d6d6eb"/>
<rect x="903.43" y="995.60" width="21.72" height="19.90" fill="#f4f4fa"/>
<rect x="925.15" y="995.60" width="21.72" height="19.90" fill="#eab2b2"/>
<rect x="946.87" y="995.60" width="21.72" height="19.90" fill="#d26666"/>
<rect x="968.58" y="995.60" width="21.72" height="19.90" fill="#d67070"/>
<rect x="990.30" y="995.60" width="21.72" height="19.90" fill="#fbefef"/>
<rect x="1012.02" y="995.60" width="21.72" height="19.90" fill="#e6a4a4"/>
<rect x="1033.73" y="995.60" width="21.72" height="19.90" fill="#f2d0d0"/>
<rect x="1055.45" y="995.60" width="21.72" height="19.90" fill="#ffffff"/>
<rect x="1077.17" y="995.60" width="21.72" height="19.90" fill="#e29797"/>
<rect x="1098.88" y="995.60" width="21.72" height="19.90" fill="#ecbaba"/>
<text x="1128.6" y="1010.0" font-size="14" font-style="italic" stroke="#000" stroke-width="0.35">Ammoniibacillus</text>
<rect x="844.20" y="418.50" width="12.00" height="19.90" fill="#3a8f3e"/>
<rect x="844.20" y="438.40" width="12.00" height="19.90" fill="#ef4136"/>
<rect x="844.20" y="458.30" width="12.00" height="19.90" fill="#3a8f3e"/>
<rect x="844.20" y="478.20" width="12.00" height="19.90" fill="#1b85d5"/>
<rect x="844.20" y="498.10" width="12.00" height="19.90" fill="#3a8f3e"/>
<rect x="844.20" y="518.00" width="12.00" height="19.90" fill="#ef4136"/>
<rect x="844.20" y="537.90" width="12.00" height="39.80" fill="#3a8f3e"/>
<rect x="844.20" y="577.70" width="12.00" height="39.80" fill="#1b85d5"/>
<rect x="844.20" y="617.50" width="12.00" height="19.90" fill="#f7941d"/>
<rect x="844.20" y="637.40" width="12.00" height="39.80" fill="#1b85d5"/>
<rect x="844.20" y="677.20" width="12.00" height="19.90" fill="#3a8f3e"/>
<rect x="844.20" y="697.10" width="12.00" height="19.90" fill="#6d6d6d"/>
<rect x="844.20" y="717.00" width="12.00" height="39.80" fill="#1b85d5"/>
<rect x="844.20" y="756.80" width="12.00" height="19.90" fill="#f7941d"/>
<rect x="844.20" y="776.70" width="12.00" height="19.90" fill="#1b85d5"/>
<rect x="844.20" y="796.60" width="12.00" height="19.90" fill="#e0196b"/>
<rect x="844.20" y="816.50" width="12.00" height="19.90" fill="#1b85d5"/>
<rect x="844.20" y="836.40" width="12.00" height="39.80" fill="#3a8f3e"/>
<rect x="844.20" y="876.20" width="12.00" height="19.90" fill="#1b85d5"/>
<rect x="844.20" y="896.10" width="12.00" height="19.90" fill="#ef4136"/>
<rect x="844.20" y="916.00" width="12.00" height="99.50" fill="#3a8f3e"/>
<path d="M860.00,418.5V1015.5 M881.72,418.5V1015.5 M903.43,418.5V1015.5 M925.15,418.5V1015.5 M946.87,418.5V1015.5 M968.58,418.5V1015.5 M990.30,418.5V1015.5 M1012.02,418.5V1015.5 M1033.73,418.5V1015.5 M1055.45,418.5V1015.5 M1077.17,418.5V1015.5 M1098.88,418.5V1015.5 M1120.60,418.5V1015.5 M860.0,418.50H1120.6 M860.0,438.40H1120.6 M860.0,458.30H1120.6 M860.0,478.20H1120.6 M860.0,498.10H1120.6 M860.0,518.00H1120.6 M860.0,537.90H1120.6 M860.0,557.80H1120.6 M860.0,577.70H1120.6 M860.0,597.60H1120.6 M860.0,617.50H1120.6 M860.0,637.40H1120.6 M860.0,657.30H1120.6 M860.0,677.20H1120.6 M860.0,697.10H1120.6 M860.0,717.00H1120.6 M860.0,736.90H1120.6 M860.0,756.80H1120.6 M860.0,776.70H1120.6 M860.0,796.60H1120.6 M860.0,816.50H1120.6 M860.0,836.40H1120.6 M860.0,856.30H1120.6 M860.0,876.20H1120.6 M860.0,896.10H1120.6 M860.0,916.00H1120.6 M860.0,935.90H1120.6 M860.0,955.80H1120.6 M860.0,975.70H1120.6 M860.0,995.60H1120.6 M860.0,1015.50H1120.6" stroke="#cfcfcf" stroke-width="1" fill="none"/>
<path d="M844.2,468.2H834.0V488.1H844.2 M844.2,528.0H831.6V547.9H844.2 M844.2,508.1H828.6V537.9H831.6 M834.0,478.2H825.7V523.0H828.6 M844.2,448.4H818.7V500.6H825.7 M844.2,428.4H813.8V474.5H818.7 M844.2,607.5H835.9V627.5H844.2 M844.2,647.4H831.2V667.2H844.2 M835.9,617.5H826.6V657.3H831.2 M844.2,687.1H836.5V707.0H844.2 M844.2,727.0H832.0V746.8H844.2 M836.5,697.1H829.2V736.9H832.0 M844.2,806.5H839.1V826.5H844.2 M844.2,786.6H832.6V816.5H839.1 M844.2,766.8H829.2V801.6H832.6 M829.2,717.0H825.5V784.2H829.2 M844.2,906.0H836.4V926.0H844.2 M844.2,886.1H833.8V916.0H836.4 M844.2,866.2H830.3V901.1H833.8 M844.2,846.3H827.2V883.7H830.3 M844.2,945.8H838.6V965.8H844.2 M844.2,985.6H827.9V1005.5H844.2 M838.6,955.8H822.8V995.6H827.9 M825.5,750.6H823.3V865.0H827.2 M823.3,807.8H820.2V975.7H822.8 M826.6,637.4H818.6V891.7H820.2 M844.2,587.6H817.8V764.6H818.6 M844.2,567.8H813.8V676.1H817.8 M813.8,451.5H808.9V621.9H813.8" stroke="#333" stroke-width="1.1" fill="none"/>
<text x="858.5" y="1028.6" font-size="10.4" font-weight="bold">CK</text>
<text x="877.0" y="1028.6" font-size="10.4" font-weight="bold">COS</text>
<text x="902.4" y="1028.6" font-size="10.4" font-weight="bold">EPP</text>
<text x="926.9" y="1028.6" font-size="10.4" font-weight="bold">CK</text>
<text x="946.0" y="1028.6" font-size="10.4" font-weight="bold">COS</text>
<text x="971.2" y="1028.6" font-size="10.4" font-weight="bold">EPP</text>
<text x="993.3" y="1028.6" font-size="10.4" font-weight="bold">CK</text>
<text x="1008.3" y="1028.6" font-size="10.4" font-weight="bold">COS</text>
<text x="1034.7" y="1028.6" font-size="10.4" font-weight="bold">EPP</text>
<text x="1056.8" y="1028.6" font-size="10.4" font-weight="bold">CK</text>
<text x="1075.8" y="1028.6" font-size="10.4" font-weight="bold">COS</text>
<text x="1100.8" y="1028.6" font-size="10.4" font-weight="bold">EPP</text>
<line x1="856.9" y1="1016.0" x2="856.9" y2="1059.0" stroke="#8a8a8a" stroke-width="1.4"/>
<line x1="924.5" y1="1016.0" x2="924.5" y2="1059.0" stroke="#8a8a8a" stroke-width="1.4"/>
<line x1="990.4" y1="1016.0" x2="990.4" y2="1059.0" stroke="#8a8a8a" stroke-width="1.4"/>
<line x1="1055.2" y1="1016.0" x2="1055.2" y2="1059.0" stroke="#8a8a8a" stroke-width="1.4"/>
<line x1="1120.7" y1="1016.0" x2="1120.7" y2="1059.0" stroke="#8a8a8a" stroke-width="1.4"/>
<text x="885.9" y="1055.6" font-size="17" font-weight="bold" text-anchor="middle">0 day</text>
<text x="955.8" y="1055.6" font-size="17" font-weight="bold" text-anchor="middle">2 day</text>
<text x="1021.7" y="1055.6" font-size="17" font-weight="bold" text-anchor="middle">8 day</text>
<text x="1083.0" y="1055.6" font-size="17" font-weight="bold" text-anchor="middle">20 day</text>
<rect x="1390.80" y="416.70" width="11.40" height="11.20" fill="#3a8f3e"/>
<text x="1405.1" y="426.7" font-size="14" stroke="#000" stroke-width="0.35">Firmicutes</text>
<rect x="1390.80" y="437.36" width="11.40" height="11.20" fill="#ef4136"/>
<text x="1405.1" y="447.4" font-size="14" stroke="#000" stroke-width="0.35">Actinobacteriota</text>
<rect x="1390.80" y="458.02" width="11.40" height="11.20" fill="#1b85d5"/>
<text x="1405.1" y="468.0" font-size="14" stroke="#000" stroke-width="0.35">Proteobacteria</text>
<rect x="1390.80" y="478.68" width="11.40" height="11.20" fill="#f7941d"/>
<text x="1405.1" y="488.7" font-size="14" stroke="#000" stroke-width="0.35">Bacteroidota</text>
<rect x="1390.80" y="499.34" width="11.40" height="11.20" fill="#6d6d6d"/>
<text x="1405.1" y="509.3" font-size="14" stroke="#000" stroke-width="0.35">Gemmatimonadot</text>
<rect x="1390.80" y="520.00" width="11.40" height="11.20" fill="#e0196b"/>
<text x="1405.1" y="530.0" font-size="14" stroke="#000" stroke-width="0.35">Chloroflexi</text>
<defs><linearGradient id="cbar" x1="0" y1="0" x2="0" y2="1"><stop offset="0" stop-color="#b8141c"/><stop offset="0.25" stop-color="#d27070"/><stop offset="0.49" stop-color="#fdf4f4"/><stop offset="0.51" stop-color="#f6f6fc"/><stop offset="0.75" stop-color="#7070c0"/><stop offset="1" stop-color="#000088"/></linearGradient></defs>
<rect x="1353.20" y="893.90" width="15.90" height="78.60" fill="url(#cbar)"/>
<line x1="1369.1" y1="893.4" x2="1371.5" y2="893.4" stroke="#555" stroke-width="0.8"/>
<text x="1374.6" y="896.8" font-size="9" font-weight="bold" fill="#333" style='font-family:"Liberation Sans", Arial, sans-serif'>1e+4</text>
<line x1="1369.1" y1="909.4" x2="1371.5" y2="909.4" stroke="#555" stroke-width="0.8"/>
<text x="1374.6" y="912.3" font-size="9" font-weight="bold" fill="#333" style='font-family:"Liberation Sans", Arial, sans-serif'>1e+3</text>
<line x1="1369.1" y1="925.2" x2="1371.5" y2="925.2" stroke="#555" stroke-width="0.8"/>
<text x="1374.6" y="928.3" font-size="9" font-weight="bold" fill="#333" style='font-family:"Liberation Sans", Arial, sans-serif'>1e+2</text>
<line x1="1369.1" y1="941.0" x2="1371.5" y2="941.0" stroke="#555" stroke-width="0.8"/>
<text x="1374.6" y="943.8" font-size="9" font-weight="bold" fill="#333" style='font-family:"Liberation Sans", Arial, sans-serif'>1e+1</text>
<line x1="1369.1" y1="957.0" x2="1371.5" y2="957.0" stroke="#555" stroke-width="0.8"/>
<text x="1374.6" y="959.9" font-size="9" font-weight="bold" fill="#333" style='font-family:"Liberation Sans", Arial, sans-serif'>1e+0</text>
<line x1="1369.1" y1="972.7" x2="1371.5" y2="972.7" stroke="#555" stroke-width="0.8"/>
<text x="1374.6" y="975.4" font-size="9" font-weight="bold" fill="#333" style='font-family:"Liberation Sans", Arial, sans-serif'>1e-1</text>
<text x="734.6" y="474.0" font-size="46.5">E</text>
</svg></body></html>
